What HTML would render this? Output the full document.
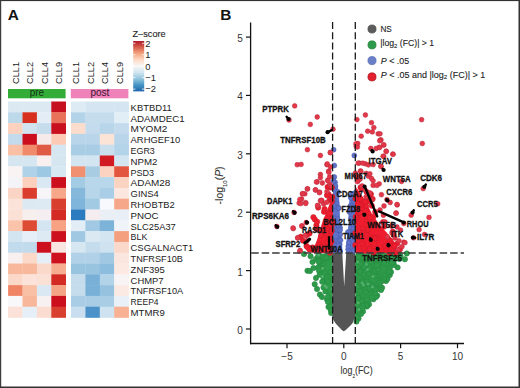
<!DOCTYPE html>
<html><head><meta charset="utf-8"><style>
html,body{margin:0;padding:0;background:#fff;}
body{width:520px;height:388px;overflow:hidden;}
svg{display:block;font-family:"Liberation Sans", sans-serif;}
</style></head><body>
<svg width="520" height="388" viewBox="0 0 520 388">
<rect x="0" y="0" width="520" height="388" fill="#fff"/>
<rect x="8.10" y="101.50" width="14.70" height="11.10" fill="#dce9f2"/>
<rect x="22.50" y="101.50" width="14.70" height="11.10" fill="#dce9f2"/>
<rect x="36.90" y="101.50" width="14.70" height="11.10" fill="#dce9f2"/>
<rect x="51.30" y="101.50" width="14.70" height="11.10" fill="#c7101f"/>
<rect x="71.00" y="101.50" width="14.70" height="11.10" fill="#dcebf4"/>
<rect x="85.40" y="101.50" width="14.70" height="11.10" fill="#d5e6f2"/>
<rect x="99.80" y="101.50" width="14.70" height="11.10" fill="#d5e6f2"/>
<rect x="114.20" y="101.50" width="14.70" height="11.10" fill="#d5e6f2"/>
<text x="130.6" y="110.70" font-size="9.5" fill="#222" textLength="41.2" lengthAdjust="spacingAndGlyphs">KBTBD11</text>
<rect x="8.10" y="112.30" width="14.70" height="11.10" fill="#bcd9ea"/>
<rect x="22.50" y="112.30" width="14.70" height="11.10" fill="#d7301f"/>
<rect x="36.90" y="112.30" width="14.70" height="11.10" fill="#e4edf6"/>
<rect x="51.30" y="112.30" width="14.70" height="11.10" fill="#e9735a"/>
<rect x="71.00" y="112.30" width="14.70" height="11.10" fill="#b2d3e8"/>
<rect x="85.40" y="112.30" width="14.70" height="11.10" fill="#c4dcec"/>
<rect x="99.80" y="112.30" width="14.70" height="11.10" fill="#c4dcec"/>
<rect x="114.20" y="112.30" width="14.70" height="11.10" fill="#e2eef6"/>
<text x="130.6" y="121.50" font-size="9.5" fill="#222" textLength="54" lengthAdjust="spacingAndGlyphs">ADAMDEC1</text>
<rect x="8.10" y="123.10" width="14.70" height="11.10" fill="#fcd1be"/>
<rect x="22.50" y="123.10" width="14.70" height="11.10" fill="#d0e3ef"/>
<rect x="36.90" y="123.10" width="14.70" height="11.10" fill="#c4dcec"/>
<rect x="51.30" y="123.10" width="14.70" height="11.10" fill="#c8101f"/>
<rect x="71.00" y="123.10" width="14.70" height="11.10" fill="#fbdccd"/>
<rect x="85.40" y="123.10" width="14.70" height="11.10" fill="#c3dbed"/>
<rect x="99.80" y="123.10" width="14.70" height="11.10" fill="#b9d5ea"/>
<rect x="114.20" y="123.10" width="14.70" height="11.10" fill="#c3dbed"/>
<text x="130.6" y="132.30" font-size="9.5" fill="#222" textLength="36.7" lengthAdjust="spacingAndGlyphs">MYOM2</text>
<rect x="8.10" y="133.90" width="14.70" height="11.10" fill="#c3dbec"/>
<rect x="22.50" y="133.90" width="14.70" height="11.10" fill="#cc0f1e"/>
<rect x="36.90" y="133.90" width="14.70" height="11.10" fill="#f6ebea"/>
<rect x="51.30" y="133.90" width="14.70" height="11.10" fill="#fccab5"/>
<rect x="71.00" y="133.90" width="14.70" height="11.10" fill="#b8d5e9"/>
<rect x="85.40" y="133.90" width="14.70" height="11.10" fill="#b8d5e9"/>
<rect x="99.80" y="133.90" width="14.70" height="11.10" fill="#fbe3d6"/>
<rect x="114.20" y="133.90" width="14.70" height="11.10" fill="#b8d5e9"/>
<text x="130.6" y="143.10" font-size="9.5" fill="#222" textLength="49.6" lengthAdjust="spacingAndGlyphs">ARHGEF10</text>
<rect x="8.10" y="144.70" width="14.70" height="11.10" fill="#f9c0a5"/>
<rect x="22.50" y="144.70" width="14.70" height="11.10" fill="#f08a6a"/>
<rect x="36.90" y="144.70" width="14.70" height="11.10" fill="#e05b45"/>
<rect x="51.30" y="144.70" width="14.70" height="11.10" fill="#d7e7f2"/>
<rect x="71.00" y="144.70" width="14.70" height="11.10" fill="#a9cde4"/>
<rect x="85.40" y="144.70" width="14.70" height="11.10" fill="#a9cde4"/>
<rect x="99.80" y="144.70" width="14.70" height="11.10" fill="#c9dfee"/>
<rect x="114.20" y="144.70" width="14.70" height="11.10" fill="#b3d3e8"/>
<text x="130.6" y="153.90" font-size="9.5" fill="#222" textLength="24.2" lengthAdjust="spacingAndGlyphs">EGR3</text>
<rect x="8.10" y="155.50" width="14.70" height="11.10" fill="#d5e6f1"/>
<rect x="22.50" y="155.50" width="14.70" height="11.10" fill="#d5e6f1"/>
<rect x="36.90" y="155.50" width="14.70" height="11.10" fill="#f8efee"/>
<rect x="51.30" y="155.50" width="14.70" height="11.10" fill="#d5e6f1"/>
<rect x="71.00" y="155.50" width="14.70" height="11.10" fill="#d3e5f1"/>
<rect x="85.40" y="155.50" width="14.70" height="11.10" fill="#d3e5f1"/>
<rect x="99.80" y="155.50" width="14.70" height="11.10" fill="#d11a22"/>
<rect x="114.20" y="155.50" width="14.70" height="11.10" fill="#d3e5f1"/>
<text x="130.6" y="164.70" font-size="9.5" fill="#222" textLength="26.9" lengthAdjust="spacingAndGlyphs">NPM2</text>
<rect x="8.10" y="166.30" width="14.70" height="11.10" fill="#f9f3f3"/>
<rect x="22.50" y="166.30" width="14.70" height="11.10" fill="#b0d2e8"/>
<rect x="36.90" y="166.30" width="14.70" height="11.10" fill="#9dc8e3"/>
<rect x="51.30" y="166.30" width="14.70" height="11.10" fill="#d8e8f2"/>
<rect x="71.00" y="166.30" width="14.70" height="11.10" fill="#f19071"/>
<rect x="85.40" y="166.30" width="14.70" height="11.10" fill="#a8cde3"/>
<rect x="99.80" y="166.30" width="14.70" height="11.10" fill="#fcd3c1"/>
<rect x="114.20" y="166.30" width="14.70" height="11.10" fill="#e2563f"/>
<text x="130.6" y="175.50" font-size="9.5" fill="#222" textLength="23.5" lengthAdjust="spacingAndGlyphs">PSD3</text>
<rect x="8.10" y="177.10" width="14.70" height="11.10" fill="#f4f4f8"/>
<rect x="22.50" y="177.10" width="14.70" height="11.10" fill="#fcd0bd"/>
<rect x="36.90" y="177.10" width="14.70" height="11.10" fill="#d9e8f2"/>
<rect x="51.30" y="177.10" width="14.70" height="11.10" fill="#cc0f1d"/>
<rect x="71.00" y="177.10" width="14.70" height="11.10" fill="#a3cbe3"/>
<rect x="85.40" y="177.10" width="14.70" height="11.10" fill="#b9d7ea"/>
<rect x="99.80" y="177.10" width="14.70" height="11.10" fill="#b9d7ea"/>
<rect x="114.20" y="177.10" width="14.70" height="11.10" fill="#fbd3c1"/>
<text x="130.6" y="186.30" font-size="9.5" fill="#222" textLength="39.7" lengthAdjust="spacingAndGlyphs">ADAM28</text>
<rect x="8.10" y="187.90" width="14.70" height="11.10" fill="#fad4c4"/>
<rect x="22.50" y="187.90" width="14.70" height="11.10" fill="#da3d2e"/>
<rect x="36.90" y="187.90" width="14.70" height="11.10" fill="#f7f5f7"/>
<rect x="51.30" y="187.90" width="14.70" height="11.10" fill="#f7a88a"/>
<rect x="71.00" y="187.90" width="14.70" height="11.10" fill="#86b8dc"/>
<rect x="85.40" y="187.90" width="14.70" height="11.10" fill="#b7d6ea"/>
<rect x="99.80" y="187.90" width="14.70" height="11.10" fill="#a9cee5"/>
<rect x="114.20" y="187.90" width="14.70" height="11.10" fill="#fbe7e0"/>
<text x="130.6" y="197.10" font-size="9.5" fill="#222" textLength="28.1" lengthAdjust="spacingAndGlyphs">GINS4</text>
<rect x="8.10" y="198.70" width="14.70" height="11.10" fill="#fbe3da"/>
<rect x="22.50" y="198.70" width="14.70" height="11.10" fill="#dce9f2"/>
<rect x="36.90" y="198.70" width="14.70" height="11.10" fill="#dde9f3"/>
<rect x="51.30" y="198.70" width="14.70" height="11.10" fill="#d83f2f"/>
<rect x="71.00" y="198.70" width="14.70" height="11.10" fill="#7fb5da"/>
<rect x="85.40" y="198.70" width="14.70" height="11.10" fill="#a2cae3"/>
<rect x="99.80" y="198.70" width="14.70" height="11.10" fill="#f7f9fc"/>
<rect x="114.20" y="198.70" width="14.70" height="11.10" fill="#f7a789"/>
<text x="130.6" y="207.90" font-size="9.5" fill="#222" textLength="44.2" lengthAdjust="spacingAndGlyphs">RHOBTB2</text>
<rect x="8.10" y="209.50" width="14.70" height="11.10" fill="#fbe0d6"/>
<rect x="22.50" y="209.50" width="14.70" height="11.10" fill="#f7eeee"/>
<rect x="36.90" y="209.50" width="14.70" height="11.10" fill="#f4eef0"/>
<rect x="51.30" y="209.50" width="14.70" height="11.10" fill="#d42a24"/>
<rect x="71.00" y="209.50" width="14.70" height="11.10" fill="#2c7bbf"/>
<rect x="85.40" y="209.50" width="14.70" height="11.10" fill="#f4ecee"/>
<rect x="99.80" y="209.50" width="14.70" height="11.10" fill="#eaeff6"/>
<rect x="114.20" y="209.50" width="14.70" height="11.10" fill="#e9eff7"/>
<text x="130.6" y="218.70" font-size="9.5" fill="#222" textLength="28" lengthAdjust="spacingAndGlyphs">PNOC</text>
<rect x="8.10" y="220.30" width="14.70" height="11.10" fill="#fac3aa"/>
<rect x="22.50" y="220.30" width="14.70" height="11.10" fill="#de4b35"/>
<rect x="36.90" y="220.30" width="14.70" height="11.10" fill="#d4e5f1"/>
<rect x="51.30" y="220.30" width="14.70" height="11.10" fill="#f6a283"/>
<rect x="71.00" y="220.30" width="14.70" height="11.10" fill="#e2edf5"/>
<rect x="85.40" y="220.30" width="14.70" height="11.10" fill="#a1c9e3"/>
<rect x="99.80" y="220.30" width="14.70" height="11.10" fill="#7db3d9"/>
<rect x="114.20" y="220.30" width="14.70" height="11.10" fill="#f0f3f8"/>
<text x="130.6" y="229.50" font-size="9.5" fill="#222" textLength="45.2" lengthAdjust="spacingAndGlyphs">SLC25A37</text>
<rect x="8.10" y="231.10" width="14.70" height="11.10" fill="#d3e5f1"/>
<rect x="22.50" y="231.10" width="14.70" height="11.10" fill="#e6eff7"/>
<rect x="36.90" y="231.10" width="14.70" height="11.10" fill="#dde9f3"/>
<rect x="51.30" y="231.10" width="14.70" height="11.10" fill="#cc101e"/>
<rect x="71.00" y="231.10" width="14.70" height="11.10" fill="#a0c8e2"/>
<rect x="85.40" y="231.10" width="14.70" height="11.10" fill="#dbe9f3"/>
<rect x="99.80" y="231.10" width="14.70" height="11.10" fill="#d3e5f1"/>
<rect x="114.20" y="231.10" width="14.70" height="11.10" fill="#f4a07f"/>
<text x="130.6" y="240.30" font-size="9.5" fill="#222" textLength="16.7" lengthAdjust="spacingAndGlyphs">BLK</text>
<rect x="8.10" y="241.90" width="14.70" height="11.10" fill="#c2dbec"/>
<rect x="22.50" y="241.90" width="14.70" height="11.10" fill="#c2dbec"/>
<rect x="36.90" y="241.90" width="14.70" height="11.10" fill="#cc101e"/>
<rect x="51.30" y="241.90" width="14.70" height="11.10" fill="#f9e6e0"/>
<rect x="71.00" y="241.90" width="14.70" height="11.10" fill="#d6e7f2"/>
<rect x="85.40" y="241.90" width="14.70" height="11.10" fill="#c5dced"/>
<rect x="99.80" y="241.90" width="14.70" height="11.10" fill="#cfe2ef"/>
<rect x="114.20" y="241.90" width="14.70" height="11.10" fill="#fbd9ca"/>
<text x="130.6" y="251.10" font-size="9.5" fill="#222" textLength="62.6" lengthAdjust="spacingAndGlyphs">CSGALNACT1</text>
<rect x="8.10" y="252.70" width="14.70" height="11.10" fill="#f8efef"/>
<rect x="22.50" y="252.70" width="14.70" height="11.10" fill="#fbd8c8"/>
<rect x="36.90" y="252.70" width="14.70" height="11.10" fill="#e5eef6"/>
<rect x="51.30" y="252.70" width="14.70" height="11.10" fill="#cd111f"/>
<rect x="71.00" y="252.70" width="14.70" height="11.10" fill="#b0d1e7"/>
<rect x="85.40" y="252.70" width="14.70" height="11.10" fill="#b0d1e7"/>
<rect x="99.80" y="252.70" width="14.70" height="11.10" fill="#a0c8e2"/>
<rect x="114.20" y="252.70" width="14.70" height="11.10" fill="#fbe6df"/>
<text x="130.6" y="261.90" font-size="9.5" fill="#222" textLength="52.3" lengthAdjust="spacingAndGlyphs">TNFRSF10B</text>
<rect x="8.10" y="263.50" width="14.70" height="11.10" fill="#f8b89c"/>
<rect x="22.50" y="263.50" width="14.70" height="11.10" fill="#f8b89c"/>
<rect x="36.90" y="263.50" width="14.70" height="11.10" fill="#fbd9ca"/>
<rect x="51.30" y="263.50" width="14.70" height="11.10" fill="#f6ad90"/>
<rect x="71.00" y="263.50" width="14.70" height="11.10" fill="#98c4e0"/>
<rect x="85.40" y="263.50" width="14.70" height="11.10" fill="#98c4e0"/>
<rect x="99.80" y="263.50" width="14.70" height="11.10" fill="#8dbdde"/>
<rect x="114.20" y="263.50" width="14.70" height="11.10" fill="#fbe9e2"/>
<text x="130.6" y="272.70" font-size="9.5" fill="#222" textLength="34.2" lengthAdjust="spacingAndGlyphs">ZNF395</text>
<rect x="8.10" y="274.30" width="14.70" height="11.10" fill="#fbd8c8"/>
<rect x="22.50" y="274.30" width="14.70" height="11.10" fill="#fbe3da"/>
<rect x="36.90" y="274.30" width="14.70" height="11.10" fill="#fbe0d5"/>
<rect x="51.30" y="274.30" width="14.70" height="11.10" fill="#d32a24"/>
<rect x="71.00" y="274.30" width="14.70" height="11.10" fill="#c4dcec"/>
<rect x="85.40" y="274.30" width="14.70" height="11.10" fill="#78b0d7"/>
<rect x="99.80" y="274.30" width="14.70" height="11.10" fill="#b2d3e8"/>
<rect x="114.20" y="274.30" width="14.70" height="11.10" fill="#f8f3f4"/>
<text x="130.6" y="283.50" font-size="9.5" fill="#222" textLength="33" lengthAdjust="spacingAndGlyphs">CHMP7</text>
<rect x="8.10" y="285.10" width="14.70" height="11.10" fill="#f08566"/>
<rect x="22.50" y="285.10" width="14.70" height="11.10" fill="#f9c0a5"/>
<rect x="36.90" y="285.10" width="14.70" height="11.10" fill="#d9e8f2"/>
<rect x="51.30" y="285.10" width="14.70" height="11.10" fill="#f5a385"/>
<rect x="71.00" y="285.10" width="14.70" height="11.10" fill="#c4dcec"/>
<rect x="85.40" y="285.10" width="14.70" height="11.10" fill="#78b0d7"/>
<rect x="99.80" y="285.10" width="14.70" height="11.10" fill="#96c2e0"/>
<rect x="114.20" y="285.10" width="14.70" height="11.10" fill="#fbeae3"/>
<text x="130.6" y="294.30" font-size="9.5" fill="#222" textLength="52.6" lengthAdjust="spacingAndGlyphs">TNFRSF10A</text>
<rect x="8.10" y="295.90" width="14.70" height="11.10" fill="#f8f7f9"/>
<rect x="22.50" y="295.90" width="14.70" height="11.10" fill="#f8b69a"/>
<rect x="36.90" y="295.90" width="14.70" height="11.10" fill="#f7f1f2"/>
<rect x="51.30" y="295.90" width="14.70" height="11.10" fill="#cc0f1d"/>
<rect x="71.00" y="295.90" width="14.70" height="11.10" fill="#a9cde4"/>
<rect x="85.40" y="295.90" width="14.70" height="11.10" fill="#a9cde4"/>
<rect x="99.80" y="295.90" width="14.70" height="11.10" fill="#a9cde4"/>
<rect x="114.20" y="295.90" width="14.70" height="11.10" fill="#eaf0f7"/>
<text x="130.6" y="305.10" font-size="9.5" fill="#222" textLength="28" lengthAdjust="spacingAndGlyphs">REEP4</text>
<rect x="8.10" y="306.70" width="14.70" height="11.10" fill="#fbe1d7"/>
<rect x="22.50" y="306.70" width="14.70" height="11.10" fill="#e6eff7"/>
<rect x="36.90" y="306.70" width="14.70" height="11.10" fill="#fbdcd0"/>
<rect x="51.30" y="306.70" width="14.70" height="11.10" fill="#d93f2f"/>
<rect x="71.00" y="306.70" width="14.70" height="11.10" fill="#c9deee"/>
<rect x="85.40" y="306.70" width="14.70" height="11.10" fill="#4b92c8"/>
<rect x="99.80" y="306.70" width="14.70" height="11.10" fill="#cfe2ef"/>
<rect x="114.20" y="306.70" width="14.70" height="11.10" fill="#f8b192"/>
<text x="130.6" y="315.90" font-size="9.5" fill="#222" textLength="34.2" lengthAdjust="spacingAndGlyphs">MTMR9</text>
<rect x="8" y="89" width="57.6" height="9.3" fill="#33ac38"/>
<rect x="70.8" y="89" width="57.6" height="9.3" fill="#ef82b9"/>
<text x="36.9" y="95.8" font-size="10" fill="#163016" text-anchor="middle">pre</text>
<text x="99.9" y="95.8" font-size="10" fill="#3a1430" text-anchor="middle">post</text>
<text transform="translate(18.60,83.9) rotate(-90)" font-size="9.2" fill="#222">CLL1</text>
<text transform="translate(33.10,83.9) rotate(-90)" font-size="9.2" fill="#222">CLL2</text>
<text transform="translate(47.50,83.9) rotate(-90)" font-size="9.2" fill="#222">CLL4</text>
<text transform="translate(61.90,83.9) rotate(-90)" font-size="9.2" fill="#222">CLL9</text>
<text transform="translate(79.20,83.9) rotate(-90)" font-size="9.2" fill="#222">CLL1</text>
<text transform="translate(93.90,83.9) rotate(-90)" font-size="9.2" fill="#222">CLL2</text>
<text transform="translate(108.10,83.9) rotate(-90)" font-size="9.2" fill="#222">CLL4</text>
<text transform="translate(122.50,83.9) rotate(-90)" font-size="9.2" fill="#222">CLL9</text>
<defs><linearGradient id="cb" x1="0" y1="0" x2="0" y2="1">
<stop offset="0" stop-color="#b2182b"/>
<stop offset="0.125" stop-color="#d6604d"/>
<stop offset="0.25" stop-color="#f4a582"/>
<stop offset="0.375" stop-color="#fddbc7"/>
<stop offset="0.5" stop-color="#f7f7f7"/>
<stop offset="0.625" stop-color="#d1e5f0"/>
<stop offset="0.75" stop-color="#92c5de"/>
<stop offset="0.875" stop-color="#4393c3"/>
<stop offset="1" stop-color="#2166ac"/>
</linearGradient></defs>
<rect x="133.2" y="41" width="11" height="50.4" fill="url(#cb)"/>
<line x1="133.2" x2="135.4" y1="43.30" y2="43.30" stroke="#fff" stroke-width="0.8"/>
<line x1="142" x2="144.2" y1="43.30" y2="43.30" stroke="#fff" stroke-width="0.8"/>
<text x="145.2" y="46.60" font-size="9.4" fill="#222">2</text>
<line x1="133.2" x2="135.4" y1="54.75" y2="54.75" stroke="#fff" stroke-width="0.8"/>
<line x1="142" x2="144.2" y1="54.75" y2="54.75" stroke="#fff" stroke-width="0.8"/>
<text x="145.2" y="58.05" font-size="9.4" fill="#222">1</text>
<line x1="133.2" x2="135.4" y1="66.20" y2="66.20" stroke="#fff" stroke-width="0.8"/>
<line x1="142" x2="144.2" y1="66.20" y2="66.20" stroke="#fff" stroke-width="0.8"/>
<text x="145.2" y="69.50" font-size="9.4" fill="#222">0</text>
<line x1="133.2" x2="135.4" y1="77.65" y2="77.65" stroke="#fff" stroke-width="0.8"/>
<line x1="142" x2="144.2" y1="77.65" y2="77.65" stroke="#fff" stroke-width="0.8"/>
<text x="145.2" y="80.95" font-size="9.4" fill="#222">−1</text>
<line x1="133.2" x2="135.4" y1="89.10" y2="89.10" stroke="#fff" stroke-width="0.8"/>
<line x1="142" x2="144.2" y1="89.10" y2="89.10" stroke="#fff" stroke-width="0.8"/>
<text x="145.2" y="92.40" font-size="9.4" fill="#222">−2</text>
<text x="132.5" y="36.8" font-size="9" fill="#222" stroke="#222" stroke-width="0.1" textLength="33.2" lengthAdjust="spacingAndGlyphs">Z–score</text>
<text x="7.7" y="20.1" font-size="15.4" font-weight="bold" fill="#111">A</text>
<text x="220.3" y="20.1" font-size="15.4" font-weight="bold" fill="#111">B</text>
<polygon points="318.0,253.5 318.5,265.0 319.5,275.0 323.0,285.0 326.5,295.0 329.5,305.0 332.0,314.0 332.7,318.0 332.7,253.5" fill="#2e9b4a"/>
<polygon points="355.2,253.5 399.0,253.5 394.0,262.0 389.0,270.0 384.0,278.0 380.0,285.0 375.5,292.0 370.0,300.0 364.0,307.0 360.0,312.0 357.0,316.5 355.2,320.0" fill="#2e9b4a"/>
<circle cx="304.0" cy="254.0" r="2.7" fill="#2e9b4a" stroke="#25803d" stroke-width="0.5"/>
<circle cx="310.6" cy="256.3" r="2.7" fill="#2e9b4a" stroke="#25803d" stroke-width="0.5"/>
<circle cx="312.5" cy="262.0" r="2.7" fill="#2e9b4a" stroke="#25803d" stroke-width="0.5"/>
<circle cx="307.5" cy="270.8" r="2.7" fill="#2e9b4a" stroke="#25803d" stroke-width="0.5"/>
<circle cx="310.0" cy="271.0" r="2.7" fill="#2e9b4a" stroke="#25803d" stroke-width="0.5"/>
<circle cx="313.5" cy="268.0" r="2.7" fill="#2e9b4a" stroke="#25803d" stroke-width="0.5"/>
<circle cx="314.7" cy="284.2" r="2.7" fill="#2e9b4a" stroke="#25803d" stroke-width="0.5"/>
<circle cx="316.0" cy="278.0" r="2.7" fill="#2e9b4a" stroke="#25803d" stroke-width="0.5"/>
<circle cx="319.9" cy="294.5" r="2.7" fill="#2e9b4a" stroke="#25803d" stroke-width="0.5"/>
<circle cx="322.0" cy="297.0" r="2.7" fill="#2e9b4a" stroke="#25803d" stroke-width="0.5"/>
<circle cx="327.0" cy="299.6" r="2.7" fill="#2e9b4a" stroke="#25803d" stroke-width="0.5"/>
<circle cx="331.2" cy="313.0" r="2.7" fill="#2e9b4a" stroke="#25803d" stroke-width="0.5"/>
<circle cx="328.5" cy="307.0" r="2.7" fill="#2e9b4a" stroke="#25803d" stroke-width="0.5"/>
<circle cx="316.0" cy="259.0" r="2.7" fill="#2e9b4a" stroke="#25803d" stroke-width="0.5"/>
<circle cx="317.0" cy="289.0" r="2.7" fill="#2e9b4a" stroke="#25803d" stroke-width="0.5"/>
<circle cx="406.8" cy="253.5" r="2.7" fill="#2e9b4a" stroke="#25803d" stroke-width="0.5"/>
<circle cx="404.9" cy="259.3" r="2.7" fill="#2e9b4a" stroke="#25803d" stroke-width="0.5"/>
<circle cx="400.5" cy="256.0" r="2.7" fill="#2e9b4a" stroke="#25803d" stroke-width="0.5"/>
<circle cx="397.6" cy="267.4" r="2.7" fill="#2e9b4a" stroke="#25803d" stroke-width="0.5"/>
<circle cx="394.0" cy="265.0" r="2.7" fill="#2e9b4a" stroke="#25803d" stroke-width="0.5"/>
<circle cx="389.8" cy="275.1" r="2.7" fill="#2e9b4a" stroke="#25803d" stroke-width="0.5"/>
<circle cx="391.0" cy="272.0" r="2.7" fill="#2e9b4a" stroke="#25803d" stroke-width="0.5"/>
<circle cx="386.0" cy="281.0" r="2.7" fill="#2e9b4a" stroke="#25803d" stroke-width="0.5"/>
<circle cx="387.5" cy="279.0" r="2.7" fill="#2e9b4a" stroke="#25803d" stroke-width="0.5"/>
<circle cx="382.1" cy="287.7" r="2.7" fill="#2e9b4a" stroke="#25803d" stroke-width="0.5"/>
<circle cx="381.0" cy="290.0" r="2.7" fill="#2e9b4a" stroke="#25803d" stroke-width="0.5"/>
<circle cx="377.2" cy="295.5" r="2.7" fill="#2e9b4a" stroke="#25803d" stroke-width="0.5"/>
<circle cx="373.4" cy="299.3" r="2.7" fill="#2e9b4a" stroke="#25803d" stroke-width="0.5"/>
<circle cx="376.0" cy="297.0" r="2.7" fill="#2e9b4a" stroke="#25803d" stroke-width="0.5"/>
<circle cx="369.0" cy="304.5" r="2.7" fill="#2e9b4a" stroke="#25803d" stroke-width="0.5"/>
<circle cx="367.0" cy="306.5" r="2.7" fill="#2e9b4a" stroke="#25803d" stroke-width="0.5"/>
<circle cx="363.0" cy="311.5" r="2.7" fill="#2e9b4a" stroke="#25803d" stroke-width="0.5"/>
<circle cx="361.0" cy="314.0" r="2.7" fill="#2e9b4a" stroke="#25803d" stroke-width="0.5"/>
<circle cx="358.5" cy="318.5" r="2.7" fill="#2e9b4a" stroke="#25803d" stroke-width="0.5"/>
<circle cx="356.5" cy="321.5" r="2.7" fill="#2e9b4a" stroke="#25803d" stroke-width="0.5"/>
<circle cx="399.5" cy="259.0" r="2.7" fill="#2e9b4a" stroke="#25803d" stroke-width="0.5"/>
<circle cx="322.8" cy="263.2" r="2.7" fill="#2e9b4a" stroke="#268a40" stroke-width="0.5"/>
<circle cx="327.6" cy="258.2" r="2.7" fill="#2e9b4a" stroke="#268a40" stroke-width="0.5"/>
<circle cx="325.9" cy="277.1" r="2.7" fill="#2e9b4a" stroke="#268a40" stroke-width="0.5"/>
<circle cx="319.0" cy="259.4" r="2.7" fill="#2e9b4a" stroke="#268a40" stroke-width="0.5"/>
<circle cx="319.8" cy="267.9" r="2.7" fill="#2e9b4a" stroke="#268a40" stroke-width="0.5"/>
<circle cx="326.5" cy="279.1" r="2.7" fill="#2e9b4a" stroke="#268a40" stroke-width="0.5"/>
<circle cx="332.4" cy="256.5" r="2.7" fill="#2e9b4a" stroke="#268a40" stroke-width="0.5"/>
<circle cx="330.6" cy="272.2" r="2.7" fill="#2e9b4a" stroke="#268a40" stroke-width="0.5"/>
<circle cx="320.1" cy="261.1" r="2.7" fill="#2e9b4a" stroke="#268a40" stroke-width="0.5"/>
<circle cx="327.4" cy="277.5" r="2.7" fill="#2e9b4a" stroke="#268a40" stroke-width="0.5"/>
<circle cx="326.1" cy="257.5" r="2.7" fill="#2e9b4a" stroke="#268a40" stroke-width="0.5"/>
<circle cx="318.9" cy="266.8" r="2.7" fill="#2e9b4a" stroke="#268a40" stroke-width="0.5"/>
<circle cx="328.0" cy="281.1" r="2.7" fill="#2e9b4a" stroke="#268a40" stroke-width="0.5"/>
<circle cx="324.7" cy="272.8" r="2.7" fill="#2e9b4a" stroke="#268a40" stroke-width="0.5"/>
<circle cx="318.3" cy="255.5" r="2.7" fill="#2e9b4a" stroke="#268a40" stroke-width="0.5"/>
<circle cx="318.4" cy="261.4" r="2.7" fill="#2e9b4a" stroke="#268a40" stroke-width="0.5"/>
<circle cx="318.4" cy="267.4" r="2.7" fill="#2e9b4a" stroke="#268a40" stroke-width="0.5"/>
<circle cx="318.9" cy="270.6" r="2.7" fill="#2e9b4a" stroke="#268a40" stroke-width="0.5"/>
<circle cx="319.6" cy="274.8" r="2.7" fill="#2e9b4a" stroke="#268a40" stroke-width="0.5"/>
<circle cx="322.2" cy="281.8" r="2.7" fill="#2e9b4a" stroke="#268a40" stroke-width="0.5"/>
<circle cx="323.5" cy="287.4" r="2.7" fill="#2e9b4a" stroke="#268a40" stroke-width="0.5"/>
<circle cx="325.4" cy="291.4" r="2.7" fill="#2e9b4a" stroke="#268a40" stroke-width="0.5"/>
<circle cx="327.7" cy="297.1" r="2.7" fill="#2e9b4a" stroke="#268a40" stroke-width="0.5"/>
<circle cx="328.0" cy="301.9" r="2.7" fill="#2e9b4a" stroke="#268a40" stroke-width="0.5"/>
<circle cx="330.5" cy="306.8" r="2.7" fill="#2e9b4a" stroke="#268a40" stroke-width="0.5"/>
<circle cx="330.8" cy="310.3" r="2.7" fill="#2e9b4a" stroke="#268a40" stroke-width="0.5"/>
<circle cx="398.9" cy="253.1" r="2.7" fill="#2e9b4a" stroke="#268a40" stroke-width="0.5"/>
<circle cx="395.8" cy="258.3" r="2.7" fill="#2e9b4a" stroke="#268a40" stroke-width="0.5"/>
<circle cx="393.5" cy="262.1" r="2.7" fill="#2e9b4a" stroke="#268a40" stroke-width="0.5"/>
<circle cx="389.9" cy="267.7" r="2.7" fill="#2e9b4a" stroke="#268a40" stroke-width="0.5"/>
<circle cx="388.8" cy="271.5" r="2.7" fill="#2e9b4a" stroke="#268a40" stroke-width="0.5"/>
<circle cx="385.2" cy="275.6" r="2.7" fill="#2e9b4a" stroke="#268a40" stroke-width="0.5"/>
<circle cx="384.1" cy="279.2" r="2.7" fill="#2e9b4a" stroke="#268a40" stroke-width="0.5"/>
<circle cx="381.5" cy="281.4" r="2.7" fill="#2e9b4a" stroke="#268a40" stroke-width="0.5"/>
<circle cx="379.7" cy="285.5" r="2.7" fill="#2e9b4a" stroke="#268a40" stroke-width="0.5"/>
<circle cx="376.9" cy="288.9" r="2.7" fill="#2e9b4a" stroke="#268a40" stroke-width="0.5"/>
<circle cx="375.1" cy="293.3" r="2.7" fill="#2e9b4a" stroke="#268a40" stroke-width="0.5"/>
<circle cx="371.8" cy="297.5" r="2.7" fill="#2e9b4a" stroke="#268a40" stroke-width="0.5"/>
<circle cx="368.5" cy="301.7" r="2.7" fill="#2e9b4a" stroke="#268a40" stroke-width="0.5"/>
<circle cx="366.3" cy="305.2" r="2.7" fill="#2e9b4a" stroke="#268a40" stroke-width="0.5"/>
<circle cx="363.1" cy="307.5" r="2.7" fill="#2e9b4a" stroke="#268a40" stroke-width="0.5"/>
<circle cx="358.5" cy="312.9" r="2.7" fill="#2e9b4a" stroke="#268a40" stroke-width="0.5"/>
<circle cx="364.3" cy="264.3" r="2.7" fill="#2e9b4a" stroke="#268a40" stroke-width="0.5"/>
<circle cx="370.1" cy="257.0" r="2.7" fill="#2e9b4a" stroke="#268a40" stroke-width="0.5"/>
<circle cx="355.2" cy="263.6" r="2.7" fill="#2e9b4a" stroke="#268a40" stroke-width="0.5"/>
<circle cx="359.6" cy="277.7" r="2.7" fill="#2e9b4a" stroke="#268a40" stroke-width="0.5"/>
<circle cx="356.3" cy="311.6" r="2.7" fill="#2e9b4a" stroke="#268a40" stroke-width="0.5"/>
<circle cx="382.1" cy="263.4" r="2.7" fill="#2e9b4a" stroke="#268a40" stroke-width="0.5"/>
<circle cx="366.2" cy="276.6" r="2.7" fill="#2e9b4a" stroke="#268a40" stroke-width="0.5"/>
<circle cx="371.2" cy="261.7" r="2.7" fill="#2e9b4a" stroke="#268a40" stroke-width="0.5"/>
<circle cx="375.6" cy="285.7" r="2.7" fill="#2e9b4a" stroke="#268a40" stroke-width="0.5"/>
<circle cx="359.0" cy="260.3" r="2.7" fill="#2e9b4a" stroke="#268a40" stroke-width="0.5"/>
<circle cx="370.2" cy="271.1" r="2.7" fill="#2e9b4a" stroke="#268a40" stroke-width="0.5"/>
<circle cx="391.5" cy="264.2" r="2.7" fill="#2e9b4a" stroke="#268a40" stroke-width="0.5"/>
<circle cx="356.2" cy="316.7" r="2.7" fill="#2e9b4a" stroke="#268a40" stroke-width="0.5"/>
<circle cx="378.3" cy="263.2" r="2.7" fill="#2e9b4a" stroke="#268a40" stroke-width="0.5"/>
<circle cx="379.0" cy="255.3" r="2.7" fill="#2e9b4a" stroke="#268a40" stroke-width="0.5"/>
<circle cx="366.6" cy="277.9" r="2.7" fill="#2e9b4a" stroke="#268a40" stroke-width="0.5"/>
<circle cx="362.5" cy="304.8" r="2.7" fill="#2e9b4a" stroke="#268a40" stroke-width="0.5"/>
<circle cx="369.6" cy="268.3" r="2.7" fill="#2e9b4a" stroke="#268a40" stroke-width="0.5"/>
<circle cx="365.1" cy="287.9" r="2.7" fill="#2e9b4a" stroke="#268a40" stroke-width="0.5"/>
<circle cx="370.8" cy="255.4" r="2.7" fill="#2e9b4a" stroke="#268a40" stroke-width="0.5"/>
<circle cx="356.4" cy="272.1" r="2.7" fill="#2e9b4a" stroke="#268a40" stroke-width="0.5"/>
<circle cx="366.6" cy="299.6" r="2.7" fill="#2e9b4a" stroke="#268a40" stroke-width="0.5"/>
<circle cx="364.9" cy="268.6" r="2.7" fill="#2e9b4a" stroke="#268a40" stroke-width="0.5"/>
<circle cx="363.8" cy="267.1" r="2.7" fill="#2e9b4a" stroke="#268a40" stroke-width="0.5"/>
<circle cx="358.9" cy="297.4" r="2.7" fill="#2e9b4a" stroke="#268a40" stroke-width="0.5"/>
<circle cx="363.0" cy="306.0" r="2.7" fill="#2e9b4a" stroke="#268a40" stroke-width="0.5"/>
<circle cx="386.9" cy="264.8" r="2.7" fill="#2e9b4a" stroke="#268a40" stroke-width="0.5"/>
<circle cx="360.8" cy="263.6" r="2.7" fill="#2e9b4a" stroke="#268a40" stroke-width="0.5"/>
<circle cx="361.6" cy="308.5" r="2.7" fill="#2e9b4a" stroke="#268a40" stroke-width="0.5"/>
<circle cx="370.5" cy="290.0" r="2.7" fill="#2e9b4a" stroke="#268a40" stroke-width="0.5"/>
<circle cx="360.9" cy="254.4" r="2.7" fill="#2e9b4a" stroke="#268a40" stroke-width="0.5"/>
<circle cx="366.2" cy="273.0" r="2.7" fill="#2e9b4a" stroke="#268a40" stroke-width="0.5"/>
<circle cx="365.7" cy="292.5" r="2.7" fill="#2e9b4a" stroke="#268a40" stroke-width="0.5"/>
<circle cx="366.6" cy="281.4" r="2.7" fill="#2e9b4a" stroke="#268a40" stroke-width="0.5"/>
<circle cx="370.7" cy="284.0" r="2.7" fill="#2e9b4a" stroke="#268a40" stroke-width="0.5"/>
<circle cx="377.2" cy="288.9" r="2.7" fill="#2e9b4a" stroke="#268a40" stroke-width="0.5"/>
<circle cx="378.1" cy="254.7" r="2.7" fill="#2e9b4a" stroke="#268a40" stroke-width="0.5"/>
<circle cx="374.5" cy="265.7" r="2.7" fill="#2e9b4a" stroke="#268a40" stroke-width="0.5"/>
<circle cx="355.4" cy="306.6" r="2.7" fill="#2e9b4a" stroke="#268a40" stroke-width="0.5"/>
<circle cx="362.7" cy="285.0" r="2.7" fill="#2e9b4a" stroke="#268a40" stroke-width="0.5"/>
<circle cx="369.5" cy="288.0" r="2.7" fill="#2e9b4a" stroke="#268a40" stroke-width="0.5"/>
<circle cx="359.8" cy="290.8" r="2.7" fill="#2e9b4a" stroke="#268a40" stroke-width="0.5"/>
<circle cx="366.1" cy="271.9" r="2.7" fill="#2e9b4a" stroke="#268a40" stroke-width="0.5"/>
<circle cx="375.0" cy="289.0" r="2.7" fill="#2e9b4a" stroke="#268a40" stroke-width="0.5"/>
<circle cx="392.0" cy="262.6" r="2.7" fill="#2e9b4a" stroke="#268a40" stroke-width="0.5"/>
<circle cx="360.5" cy="282.9" r="2.7" fill="#2e9b4a" stroke="#268a40" stroke-width="0.5"/>
<circle cx="358.4" cy="269.5" r="2.7" fill="#2e9b4a" stroke="#268a40" stroke-width="0.5"/>
<circle cx="358.4" cy="298.0" r="2.7" fill="#2e9b4a" stroke="#268a40" stroke-width="0.5"/>
<circle cx="362.0" cy="301.1" r="2.7" fill="#2e9b4a" stroke="#268a40" stroke-width="0.5"/>
<circle cx="384.1" cy="263.0" r="2.7" fill="#2e9b4a" stroke="#268a40" stroke-width="0.5"/>
<circle cx="372.6" cy="285.9" r="2.7" fill="#2e9b4a" stroke="#268a40" stroke-width="0.5"/>
<circle cx="362.3" cy="282.2" r="2.7" fill="#2e9b4a" stroke="#268a40" stroke-width="0.5"/>
<circle cx="377.8" cy="276.1" r="2.7" fill="#2e9b4a" stroke="#268a40" stroke-width="0.5"/>
<circle cx="363.8" cy="274.7" r="2.7" fill="#2e9b4a" stroke="#268a40" stroke-width="0.5"/>
<circle cx="386.8" cy="254.8" r="2.7" fill="#2e9b4a" stroke="#268a40" stroke-width="0.5"/>
<circle cx="379.5" cy="282.8" r="2.7" fill="#2e9b4a" stroke="#268a40" stroke-width="0.5"/>
<circle cx="356.0" cy="275.5" r="2.7" fill="#2e9b4a" stroke="#268a40" stroke-width="0.5"/>
<circle cx="359.8" cy="271.2" r="2.7" fill="#2e9b4a" stroke="#268a40" stroke-width="0.5"/>
<circle cx="356.9" cy="305.3" r="2.7" fill="#2e9b4a" stroke="#268a40" stroke-width="0.5"/>
<circle cx="367.0" cy="262.1" r="2.7" fill="#2e9b4a" stroke="#268a40" stroke-width="0.5"/>
<circle cx="359.1" cy="257.3" r="2.7" fill="#2e9b4a" stroke="#268a40" stroke-width="0.5"/>
<circle cx="358.9" cy="310.4" r="2.7" fill="#2e9b4a" stroke="#268a40" stroke-width="0.5"/>
<circle cx="358.1" cy="310.9" r="2.7" fill="#2e9b4a" stroke="#268a40" stroke-width="0.5"/>
<circle cx="375.1" cy="276.1" r="2.7" fill="#2e9b4a" stroke="#268a40" stroke-width="0.5"/>
<circle cx="366.9" cy="262.1" r="2.7" fill="#2e9b4a" stroke="#268a40" stroke-width="0.5"/>
<circle cx="378.3" cy="269.4" r="2.7" fill="#2e9b4a" stroke="#268a40" stroke-width="0.5"/>
<circle cx="360.0" cy="264.2" r="2.7" fill="#2e9b4a" stroke="#268a40" stroke-width="0.5"/>
<circle cx="357.4" cy="266.9" r="2.7" fill="#2e9b4a" stroke="#268a40" stroke-width="0.5"/>
<circle cx="368.9" cy="273.8" r="2.7" fill="#2e9b4a" stroke="#268a40" stroke-width="0.5"/>
<circle cx="377.1" cy="265.3" r="2.7" fill="#2e9b4a" stroke="#268a40" stroke-width="0.5"/>
<circle cx="370.4" cy="254.7" r="1.4" fill="#54b06c"/>
<circle cx="366.2" cy="254.5" r="1.4" fill="#54b06c"/>
<circle cx="363.5" cy="285.1" r="1.4" fill="#54b06c"/>
<circle cx="372.4" cy="287.2" r="1.4" fill="#54b06c"/>
<circle cx="372.9" cy="276.6" r="1.4" fill="#54b06c"/>
<circle cx="357.6" cy="262.1" r="1.4" fill="#54b06c"/>
<circle cx="358.3" cy="302.8" r="1.4" fill="#54b06c"/>
<circle cx="366.4" cy="264.4" r="1.4" fill="#54b06c"/>
<circle cx="358.9" cy="309.4" r="1.4" fill="#54b06c"/>
<circle cx="367.5" cy="269.6" r="1.4" fill="#54b06c"/>
<circle cx="368.0" cy="284.1" r="1.4" fill="#54b06c"/>
<circle cx="362.1" cy="283.1" r="1.4" fill="#54b06c"/>
<circle cx="332.3" cy="288.8" r="1.4" fill="#54b06c"/>
<circle cx="322.6" cy="276.5" r="1.4" fill="#54b06c"/>
<circle cx="325.0" cy="285.9" r="1.4" fill="#54b06c"/>
<circle cx="318.6" cy="255.0" r="1.4" fill="#54b06c"/>
<circle cx="322.5" cy="268.5" r="1.4" fill="#54b06c"/>
<circle cx="326.6" cy="287.6" r="1.4" fill="#54b06c"/>
<polygon points="332.4,253.0 342.3,253.0 344.2,286.5 346.2,253.0 355.0,253.0 355.0,317.0 354.0,319.5 352.5,323.3 350.0,326.0 347.9,328.0 345.5,330.3 343.8,331.3 342.0,330.3 340.0,328.0 337.5,325.5 335.5,323.3 333.5,320.0 332.4,317.0" fill="#555555"/>
<polygon points="333.0,180.0 336.0,182.0 338.5,190.0 339.6,205.0 340.2,225.0 342.1,243.0 342.4,253.0 333.0,253.0" fill="#5d72c8"/>
<polygon points="355.3,189.0 351.0,193.0 348.6,205.0 348.4,225.0 346.2,243.0 346.1,253.0 355.3,253.0" fill="#5d72c8"/>
<circle cx="340.1" cy="228.0" r="2.4" fill="#5d72c8" stroke="#4659a8" stroke-width="0.5"/>
<circle cx="339.7" cy="244.2" r="2.4" fill="#5d72c8" stroke="#4659a8" stroke-width="0.5"/>
<circle cx="336.7" cy="203.8" r="2.4" fill="#5d72c8" stroke="#4659a8" stroke-width="0.5"/>
<circle cx="339.8" cy="227.0" r="2.4" fill="#5d72c8" stroke="#4659a8" stroke-width="0.5"/>
<circle cx="333.4" cy="241.0" r="2.4" fill="#5d72c8" stroke="#4659a8" stroke-width="0.5"/>
<circle cx="339.9" cy="239.3" r="2.4" fill="#5d72c8" stroke="#4659a8" stroke-width="0.5"/>
<circle cx="334.3" cy="218.2" r="2.4" fill="#5d72c8" stroke="#4659a8" stroke-width="0.5"/>
<circle cx="337.7" cy="241.0" r="2.4" fill="#5d72c8" stroke="#4659a8" stroke-width="0.5"/>
<circle cx="340.6" cy="240.3" r="2.4" fill="#5d72c8" stroke="#4659a8" stroke-width="0.5"/>
<circle cx="338.5" cy="245.2" r="2.4" fill="#5d72c8" stroke="#4659a8" stroke-width="0.5"/>
<circle cx="339.4" cy="230.6" r="2.4" fill="#5d72c8" stroke="#4659a8" stroke-width="0.5"/>
<circle cx="335.2" cy="182.3" r="2.4" fill="#5d72c8" stroke="#4659a8" stroke-width="0.5"/>
<circle cx="334.3" cy="206.3" r="2.4" fill="#5d72c8" stroke="#4659a8" stroke-width="0.5"/>
<circle cx="334.0" cy="241.0" r="2.4" fill="#5d72c8" stroke="#4659a8" stroke-width="0.5"/>
<circle cx="338.3" cy="225.8" r="2.4" fill="#5d72c8" stroke="#4659a8" stroke-width="0.5"/>
<circle cx="338.9" cy="229.7" r="2.4" fill="#5d72c8" stroke="#4659a8" stroke-width="0.5"/>
<circle cx="340.5" cy="234.6" r="2.4" fill="#5d72c8" stroke="#4659a8" stroke-width="0.5"/>
<circle cx="337.7" cy="219.1" r="2.4" fill="#5d72c8" stroke="#4659a8" stroke-width="0.5"/>
<circle cx="333.7" cy="199.4" r="2.4" fill="#5d72c8" stroke="#4659a8" stroke-width="0.5"/>
<circle cx="340.0" cy="251.2" r="2.4" fill="#5d72c8" stroke="#4659a8" stroke-width="0.5"/>
<circle cx="337.6" cy="207.9" r="2.4" fill="#5d72c8" stroke="#4659a8" stroke-width="0.5"/>
<circle cx="337.5" cy="229.9" r="2.4" fill="#5d72c8" stroke="#4659a8" stroke-width="0.5"/>
<circle cx="353.2" cy="228.5" r="2.4" fill="#5d72c8" stroke="#4659a8" stroke-width="0.5"/>
<circle cx="352.0" cy="194.0" r="2.4" fill="#5d72c8" stroke="#4659a8" stroke-width="0.5"/>
<circle cx="352.9" cy="208.5" r="2.4" fill="#5d72c8" stroke="#4659a8" stroke-width="0.5"/>
<circle cx="352.3" cy="233.3" r="2.4" fill="#5d72c8" stroke="#4659a8" stroke-width="0.5"/>
<circle cx="352.3" cy="207.6" r="2.4" fill="#5d72c8" stroke="#4659a8" stroke-width="0.5"/>
<circle cx="350.9" cy="218.7" r="2.4" fill="#5d72c8" stroke="#4659a8" stroke-width="0.5"/>
<circle cx="350.4" cy="196.6" r="2.4" fill="#5d72c8" stroke="#4659a8" stroke-width="0.5"/>
<circle cx="354.3" cy="201.8" r="2.4" fill="#5d72c8" stroke="#4659a8" stroke-width="0.5"/>
<circle cx="355.1" cy="248.9" r="2.4" fill="#5d72c8" stroke="#4659a8" stroke-width="0.5"/>
<circle cx="353.6" cy="251.0" r="2.4" fill="#5d72c8" stroke="#4659a8" stroke-width="0.5"/>
<circle cx="350.2" cy="206.2" r="2.4" fill="#5d72c8" stroke="#4659a8" stroke-width="0.5"/>
<circle cx="348.0" cy="249.5" r="2.4" fill="#5d72c8" stroke="#4659a8" stroke-width="0.5"/>
<circle cx="354.9" cy="197.5" r="2.4" fill="#5d72c8" stroke="#4659a8" stroke-width="0.5"/>
<circle cx="353.6" cy="221.6" r="2.4" fill="#5d72c8" stroke="#4659a8" stroke-width="0.5"/>
<circle cx="354.3" cy="234.0" r="2.4" fill="#5d72c8" stroke="#4659a8" stroke-width="0.5"/>
<circle cx="348.2" cy="246.5" r="2.4" fill="#5d72c8" stroke="#4659a8" stroke-width="0.5"/>
<circle cx="350.2" cy="208.3" r="2.4" fill="#5d72c8" stroke="#4659a8" stroke-width="0.5"/>
<circle cx="349.0" cy="242.8" r="2.4" fill="#5d72c8" stroke="#4659a8" stroke-width="0.5"/>
<circle cx="333.6" cy="149.7" r="2.5" fill="#5d72c8" stroke="#4659a8" stroke-width="0.5"/>
<circle cx="334.3" cy="165.5" r="2.5" fill="#5d72c8" stroke="#4659a8" stroke-width="0.5"/>
<circle cx="334.3" cy="177.0" r="2.5" fill="#5d72c8" stroke="#4659a8" stroke-width="0.5"/>
<circle cx="333.5" cy="181.0" r="2.5" fill="#5d72c8" stroke="#4659a8" stroke-width="0.5"/>
<circle cx="354.3" cy="155.4" r="2.5" fill="#5d72c8" stroke="#4659a8" stroke-width="0.5"/>
<circle cx="355.9" cy="195.6" r="2.5" fill="#5d72c8" stroke="#4659a8" stroke-width="0.5"/>
<circle cx="335.5" cy="186.0" r="2.5" fill="#5d72c8" stroke="#4659a8" stroke-width="0.5"/>
<circle cx="338.0" cy="192.0" r="2.5" fill="#5d72c8" stroke="#4659a8" stroke-width="0.5"/>
<circle cx="351.0" cy="198.0" r="2.5" fill="#5d72c8" stroke="#4659a8" stroke-width="0.5"/>
<circle cx="339.0" cy="208.0" r="2.5" fill="#5d72c8" stroke="#4659a8" stroke-width="0.5"/>
<circle cx="349.5" cy="212.0" r="2.5" fill="#5d72c8" stroke="#4659a8" stroke-width="0.5"/>
<circle cx="340.0" cy="230.0" r="2.5" fill="#5d72c8" stroke="#4659a8" stroke-width="0.5"/>
<circle cx="348.0" cy="232.0" r="2.5" fill="#5d72c8" stroke="#4659a8" stroke-width="0.5"/>
<polygon points="333.0,198.0 329.5,204.0 326.5,212.0 323.0,220.0 320.0,230.0 317.0,240.0 314.0,248.0 313.0,253.0 333.0,253.0" fill="#ee1c2c"/>
<polygon points="355.0,186.0 361.0,194.0 367.0,204.0 372.0,214.0 379.0,224.0 388.0,234.0 396.0,244.0 399.0,253.0 355.0,253.0" fill="#ee1c2c"/>
<circle cx="327.6" cy="187.0" r="2.7" fill="#ee1c2c" stroke="#c41c2c" stroke-width="0.5"/>
<circle cx="330.5" cy="231.5" r="2.7" fill="#ee1c2c" stroke="#c41c2c" stroke-width="0.5"/>
<circle cx="329.7" cy="199.7" r="2.7" fill="#ee1c2c" stroke="#c41c2c" stroke-width="0.5"/>
<circle cx="333.0" cy="222.2" r="2.7" fill="#ee1c2c" stroke="#c41c2c" stroke-width="0.5"/>
<circle cx="302.9" cy="240.6" r="2.7" fill="#ee1c2c" stroke="#c41c2c" stroke-width="0.5"/>
<circle cx="309.1" cy="248.2" r="2.7" fill="#ee1c2c" stroke="#c41c2c" stroke-width="0.5"/>
<circle cx="312.0" cy="249.7" r="2.7" fill="#ee1c2c" stroke="#c41c2c" stroke-width="0.5"/>
<circle cx="329.1" cy="238.9" r="2.7" fill="#ee1c2c" stroke="#c41c2c" stroke-width="0.5"/>
<circle cx="320.6" cy="246.5" r="2.7" fill="#ee1c2c" stroke="#c41c2c" stroke-width="0.5"/>
<circle cx="331.0" cy="219.2" r="2.7" fill="#ee1c2c" stroke="#c41c2c" stroke-width="0.5"/>
<circle cx="324.0" cy="211.8" r="2.7" fill="#ee1c2c" stroke="#c41c2c" stroke-width="0.5"/>
<circle cx="324.7" cy="226.3" r="2.7" fill="#ee1c2c" stroke="#c41c2c" stroke-width="0.5"/>
<circle cx="330.5" cy="187.5" r="2.7" fill="#ee1c2c" stroke="#c41c2c" stroke-width="0.5"/>
<circle cx="309.5" cy="233.4" r="2.7" fill="#ee1c2c" stroke="#c41c2c" stroke-width="0.5"/>
<circle cx="332.2" cy="197.5" r="2.7" fill="#ee1c2c" stroke="#c41c2c" stroke-width="0.5"/>
<circle cx="321.5" cy="200.6" r="2.7" fill="#ee1c2c" stroke="#c41c2c" stroke-width="0.5"/>
<circle cx="318.2" cy="207.6" r="2.7" fill="#ee1c2c" stroke="#c41c2c" stroke-width="0.5"/>
<circle cx="306.5" cy="245.9" r="2.7" fill="#ee1c2c" stroke="#c41c2c" stroke-width="0.5"/>
<circle cx="329.9" cy="252.7" r="2.7" fill="#ee1c2c" stroke="#c41c2c" stroke-width="0.5"/>
<circle cx="318.6" cy="244.5" r="2.7" fill="#ee1c2c" stroke="#c41c2c" stroke-width="0.5"/>
<circle cx="324.6" cy="209.0" r="2.7" fill="#ee1c2c" stroke="#c41c2c" stroke-width="0.5"/>
<circle cx="313.4" cy="217.3" r="2.7" fill="#ee1c2c" stroke="#c41c2c" stroke-width="0.5"/>
<circle cx="331.9" cy="187.4" r="2.7" fill="#ee1c2c" stroke="#c41c2c" stroke-width="0.5"/>
<circle cx="316.4" cy="225.2" r="2.7" fill="#ee1c2c" stroke="#c41c2c" stroke-width="0.5"/>
<circle cx="328.4" cy="194.2" r="2.7" fill="#ee1c2c" stroke="#c41c2c" stroke-width="0.5"/>
<circle cx="331.5" cy="241.7" r="2.7" fill="#ee1c2c" stroke="#c41c2c" stroke-width="0.5"/>
<circle cx="329.5" cy="213.5" r="2.7" fill="#ee1c2c" stroke="#c41c2c" stroke-width="0.5"/>
<circle cx="312.6" cy="247.5" r="2.7" fill="#ee1c2c" stroke="#c41c2c" stroke-width="0.5"/>
<circle cx="327.2" cy="242.2" r="2.7" fill="#ee1c2c" stroke="#c41c2c" stroke-width="0.5"/>
<circle cx="332.1" cy="196.6" r="2.7" fill="#ee1c2c" stroke="#c41c2c" stroke-width="0.5"/>
<circle cx="317.0" cy="229.2" r="2.7" fill="#ee1c2c" stroke="#c41c2c" stroke-width="0.5"/>
<circle cx="331.0" cy="232.1" r="2.7" fill="#ee1c2c" stroke="#c41c2c" stroke-width="0.5"/>
<circle cx="321.2" cy="235.4" r="2.7" fill="#ee1c2c" stroke="#c41c2c" stroke-width="0.5"/>
<circle cx="314.8" cy="219.4" r="2.7" fill="#ee1c2c" stroke="#c41c2c" stroke-width="0.5"/>
<circle cx="300.8" cy="236.7" r="2.7" fill="#ee1c2c" stroke="#c41c2c" stroke-width="0.5"/>
<circle cx="307.3" cy="247.0" r="2.7" fill="#ee1c2c" stroke="#c41c2c" stroke-width="0.5"/>
<circle cx="320.8" cy="230.4" r="2.7" fill="#ee1c2c" stroke="#c41c2c" stroke-width="0.5"/>
<circle cx="317.1" cy="221.7" r="2.7" fill="#ee1c2c" stroke="#c41c2c" stroke-width="0.5"/>
<circle cx="331.6" cy="226.3" r="2.7" fill="#ee1c2c" stroke="#c41c2c" stroke-width="0.5"/>
<circle cx="329.1" cy="213.6" r="2.7" fill="#ee1c2c" stroke="#c41c2c" stroke-width="0.5"/>
<circle cx="331.7" cy="230.8" r="2.7" fill="#ee1c2c" stroke="#c41c2c" stroke-width="0.5"/>
<circle cx="316.2" cy="228.6" r="2.7" fill="#ee1c2c" stroke="#c41c2c" stroke-width="0.5"/>
<circle cx="321.9" cy="247.4" r="2.7" fill="#ee1c2c" stroke="#c41c2c" stroke-width="0.5"/>
<circle cx="326.2" cy="233.4" r="2.7" fill="#ee1c2c" stroke="#c41c2c" stroke-width="0.5"/>
<circle cx="332.0" cy="201.4" r="2.7" fill="#ee1c2c" stroke="#c41c2c" stroke-width="0.5"/>
<circle cx="327.0" cy="195.3" r="2.7" fill="#ee1c2c" stroke="#c41c2c" stroke-width="0.5"/>
<circle cx="306.9" cy="235.0" r="2.7" fill="#ee1c2c" stroke="#c41c2c" stroke-width="0.5"/>
<circle cx="309.4" cy="249.4" r="2.7" fill="#ee1c2c" stroke="#c41c2c" stroke-width="0.5"/>
<circle cx="365.5" cy="205.8" r="2.7" fill="#ee1c2c" stroke="#c41c2c" stroke-width="0.5"/>
<circle cx="386.3" cy="248.8" r="2.7" fill="#ee1c2c" stroke="#c41c2c" stroke-width="0.5"/>
<circle cx="361.9" cy="203.9" r="2.7" fill="#ee1c2c" stroke="#c41c2c" stroke-width="0.5"/>
<circle cx="365.0" cy="250.9" r="2.7" fill="#ee1c2c" stroke="#c41c2c" stroke-width="0.5"/>
<circle cx="357.8" cy="203.9" r="2.7" fill="#ee1c2c" stroke="#c41c2c" stroke-width="0.5"/>
<circle cx="397.2" cy="243.6" r="2.7" fill="#ee1c2c" stroke="#c41c2c" stroke-width="0.5"/>
<circle cx="389.4" cy="252.8" r="2.7" fill="#ee1c2c" stroke="#c41c2c" stroke-width="0.5"/>
<circle cx="363.7" cy="247.8" r="2.7" fill="#ee1c2c" stroke="#c41c2c" stroke-width="0.5"/>
<circle cx="372.6" cy="198.9" r="2.7" fill="#ee1c2c" stroke="#c41c2c" stroke-width="0.5"/>
<circle cx="368.2" cy="200.5" r="2.7" fill="#ee1c2c" stroke="#c41c2c" stroke-width="0.5"/>
<circle cx="371.8" cy="238.5" r="2.7" fill="#ee1c2c" stroke="#c41c2c" stroke-width="0.5"/>
<circle cx="357.3" cy="210.4" r="2.7" fill="#ee1c2c" stroke="#c41c2c" stroke-width="0.5"/>
<circle cx="372.5" cy="246.5" r="2.7" fill="#ee1c2c" stroke="#c41c2c" stroke-width="0.5"/>
<circle cx="364.1" cy="201.5" r="2.7" fill="#ee1c2c" stroke="#c41c2c" stroke-width="0.5"/>
<circle cx="374.3" cy="237.8" r="2.7" fill="#ee1c2c" stroke="#c41c2c" stroke-width="0.5"/>
<circle cx="356.6" cy="177.1" r="2.7" fill="#ee1c2c" stroke="#c41c2c" stroke-width="0.5"/>
<circle cx="390.1" cy="244.8" r="2.7" fill="#ee1c2c" stroke="#c41c2c" stroke-width="0.5"/>
<circle cx="370.9" cy="194.1" r="2.7" fill="#ee1c2c" stroke="#c41c2c" stroke-width="0.5"/>
<circle cx="367.3" cy="230.0" r="2.7" fill="#ee1c2c" stroke="#c41c2c" stroke-width="0.5"/>
<circle cx="369.9" cy="194.3" r="2.7" fill="#ee1c2c" stroke="#c41c2c" stroke-width="0.5"/>
<circle cx="355.2" cy="233.2" r="2.7" fill="#ee1c2c" stroke="#c41c2c" stroke-width="0.5"/>
<circle cx="366.0" cy="210.5" r="2.7" fill="#ee1c2c" stroke="#c41c2c" stroke-width="0.5"/>
<circle cx="400.0" cy="249.3" r="2.7" fill="#ee1c2c" stroke="#c41c2c" stroke-width="0.5"/>
<circle cx="375.2" cy="212.0" r="2.7" fill="#ee1c2c" stroke="#c41c2c" stroke-width="0.5"/>
<circle cx="392.7" cy="231.8" r="2.7" fill="#ee1c2c" stroke="#c41c2c" stroke-width="0.5"/>
<circle cx="393.7" cy="234.6" r="2.7" fill="#ee1c2c" stroke="#c41c2c" stroke-width="0.5"/>
<circle cx="370.0" cy="201.3" r="2.7" fill="#ee1c2c" stroke="#c41c2c" stroke-width="0.5"/>
<circle cx="364.3" cy="233.0" r="2.7" fill="#ee1c2c" stroke="#c41c2c" stroke-width="0.5"/>
<circle cx="356.6" cy="216.8" r="2.7" fill="#ee1c2c" stroke="#c41c2c" stroke-width="0.5"/>
<circle cx="370.3" cy="251.4" r="2.7" fill="#ee1c2c" stroke="#c41c2c" stroke-width="0.5"/>
<circle cx="396.5" cy="252.0" r="2.7" fill="#ee1c2c" stroke="#c41c2c" stroke-width="0.5"/>
<circle cx="359.5" cy="212.4" r="2.7" fill="#ee1c2c" stroke="#c41c2c" stroke-width="0.5"/>
<circle cx="366.0" cy="205.8" r="2.7" fill="#ee1c2c" stroke="#c41c2c" stroke-width="0.5"/>
<circle cx="384.2" cy="226.6" r="2.7" fill="#ee1c2c" stroke="#c41c2c" stroke-width="0.5"/>
<circle cx="390.2" cy="240.6" r="2.7" fill="#ee1c2c" stroke="#c41c2c" stroke-width="0.5"/>
<circle cx="366.6" cy="191.9" r="2.7" fill="#ee1c2c" stroke="#c41c2c" stroke-width="0.5"/>
<circle cx="362.2" cy="243.6" r="2.7" fill="#ee1c2c" stroke="#c41c2c" stroke-width="0.5"/>
<circle cx="373.6" cy="252.4" r="2.7" fill="#ee1c2c" stroke="#c41c2c" stroke-width="0.5"/>
<circle cx="377.3" cy="238.3" r="2.7" fill="#ee1c2c" stroke="#c41c2c" stroke-width="0.5"/>
<circle cx="394.5" cy="246.1" r="2.7" fill="#ee1c2c" stroke="#c41c2c" stroke-width="0.5"/>
<circle cx="356.9" cy="195.8" r="2.7" fill="#ee1c2c" stroke="#c41c2c" stroke-width="0.5"/>
<circle cx="360.6" cy="187.4" r="2.7" fill="#ee1c2c" stroke="#c41c2c" stroke-width="0.5"/>
<circle cx="367.2" cy="235.0" r="2.7" fill="#ee1c2c" stroke="#c41c2c" stroke-width="0.5"/>
<circle cx="383.0" cy="222.2" r="2.7" fill="#ee1c2c" stroke="#c41c2c" stroke-width="0.5"/>
<circle cx="365.2" cy="201.9" r="2.7" fill="#ee1c2c" stroke="#c41c2c" stroke-width="0.5"/>
<circle cx="361.6" cy="188.5" r="2.7" fill="#ee1c2c" stroke="#c41c2c" stroke-width="0.5"/>
<circle cx="367.0" cy="220.6" r="2.7" fill="#ee1c2c" stroke="#c41c2c" stroke-width="0.5"/>
<circle cx="355.5" cy="198.5" r="2.7" fill="#ee1c2c" stroke="#c41c2c" stroke-width="0.5"/>
<circle cx="358.0" cy="180.2" r="2.7" fill="#ee1c2c" stroke="#c41c2c" stroke-width="0.5"/>
<circle cx="373.6" cy="216.6" r="2.7" fill="#ee1c2c" stroke="#c41c2c" stroke-width="0.5"/>
<circle cx="362.7" cy="228.3" r="2.7" fill="#ee1c2c" stroke="#c41c2c" stroke-width="0.5"/>
<circle cx="369.5" cy="249.2" r="2.7" fill="#ee1c2c" stroke="#c41c2c" stroke-width="0.5"/>
<circle cx="369.7" cy="217.9" r="2.7" fill="#ee1c2c" stroke="#c41c2c" stroke-width="0.5"/>
<circle cx="371.8" cy="205.7" r="2.7" fill="#ee1c2c" stroke="#c41c2c" stroke-width="0.5"/>
<circle cx="395.6" cy="252.7" r="2.7" fill="#ee1c2c" stroke="#c41c2c" stroke-width="0.5"/>
<circle cx="355.3" cy="245.0" r="2.7" fill="#ee1c2c" stroke="#c41c2c" stroke-width="0.5"/>
<circle cx="374.9" cy="238.4" r="2.7" fill="#ee1c2c" stroke="#c41c2c" stroke-width="0.5"/>
<circle cx="374.1" cy="243.5" r="2.7" fill="#ee1c2c" stroke="#c41c2c" stroke-width="0.5"/>
<circle cx="355.7" cy="216.7" r="2.7" fill="#ee1c2c" stroke="#c41c2c" stroke-width="0.5"/>
<circle cx="385.1" cy="245.7" r="2.7" fill="#ee1c2c" stroke="#c41c2c" stroke-width="0.5"/>
<circle cx="294.7" cy="105.9" r="2.4" fill="#e4384a" stroke="#b82a3a" stroke-width="0.5"/>
<circle cx="289.0" cy="120.0" r="2.4" fill="#e4384a" stroke="#b82a3a" stroke-width="0.5"/>
<circle cx="317.2" cy="117.0" r="2.4" fill="#e4384a" stroke="#b82a3a" stroke-width="0.5"/>
<circle cx="310.3" cy="124.4" r="2.4" fill="#e4384a" stroke="#b82a3a" stroke-width="0.5"/>
<circle cx="333.0" cy="129.2" r="2.4" fill="#e4384a" stroke="#b82a3a" stroke-width="0.5"/>
<circle cx="307.4" cy="149.7" r="2.4" fill="#e4384a" stroke="#b82a3a" stroke-width="0.5"/>
<circle cx="320.4" cy="155.5" r="2.4" fill="#e4384a" stroke="#b82a3a" stroke-width="0.5"/>
<circle cx="330.3" cy="152.7" r="2.4" fill="#e4384a" stroke="#b82a3a" stroke-width="0.5"/>
<circle cx="297.2" cy="164.7" r="2.4" fill="#e4384a" stroke="#b82a3a" stroke-width="0.5"/>
<circle cx="301.1" cy="164.4" r="2.4" fill="#e4384a" stroke="#b82a3a" stroke-width="0.5"/>
<circle cx="326.9" cy="164.7" r="2.4" fill="#e4384a" stroke="#b82a3a" stroke-width="0.5"/>
<circle cx="328.6" cy="171.2" r="2.4" fill="#e4384a" stroke="#b82a3a" stroke-width="0.5"/>
<circle cx="320.4" cy="174.5" r="2.4" fill="#e4384a" stroke="#b82a3a" stroke-width="0.5"/>
<circle cx="320.4" cy="177.8" r="2.4" fill="#e4384a" stroke="#b82a3a" stroke-width="0.5"/>
<circle cx="317.1" cy="181.9" r="2.4" fill="#e4384a" stroke="#b82a3a" stroke-width="0.5"/>
<circle cx="327.7" cy="180.2" r="2.4" fill="#e4384a" stroke="#b82a3a" stroke-width="0.5"/>
<circle cx="329.9" cy="184.3" r="2.4" fill="#e4384a" stroke="#b82a3a" stroke-width="0.5"/>
<circle cx="307.3" cy="188.9" r="2.4" fill="#e4384a" stroke="#b82a3a" stroke-width="0.5"/>
<circle cx="302.4" cy="193.8" r="2.4" fill="#e4384a" stroke="#b82a3a" stroke-width="0.5"/>
<circle cx="304.9" cy="193.8" r="2.4" fill="#e4384a" stroke="#b82a3a" stroke-width="0.5"/>
<circle cx="315.5" cy="190.0" r="2.4" fill="#e4384a" stroke="#b82a3a" stroke-width="0.5"/>
<circle cx="319.6" cy="192.2" r="2.4" fill="#e4384a" stroke="#b82a3a" stroke-width="0.5"/>
<circle cx="326.9" cy="191.7" r="2.4" fill="#e4384a" stroke="#b82a3a" stroke-width="0.5"/>
<circle cx="301.6" cy="199.0" r="2.4" fill="#e4384a" stroke="#b82a3a" stroke-width="0.5"/>
<circle cx="299.1" cy="203.1" r="2.4" fill="#e4384a" stroke="#b82a3a" stroke-width="0.5"/>
<circle cx="305.7" cy="202.6" r="2.4" fill="#e4384a" stroke="#b82a3a" stroke-width="0.5"/>
<circle cx="320.4" cy="200.7" r="2.4" fill="#e4384a" stroke="#b82a3a" stroke-width="0.5"/>
<circle cx="317.9" cy="205.6" r="2.4" fill="#e4384a" stroke="#b82a3a" stroke-width="0.5"/>
<circle cx="323.6" cy="204.0" r="2.4" fill="#e4384a" stroke="#b82a3a" stroke-width="0.5"/>
<circle cx="326.9" cy="202.3" r="2.4" fill="#e4384a" stroke="#b82a3a" stroke-width="0.5"/>
<circle cx="316.5" cy="182.0" r="2.4" fill="#e4384a" stroke="#b82a3a" stroke-width="0.5"/>
<circle cx="322.4" cy="183.0" r="2.4" fill="#e4384a" stroke="#b82a3a" stroke-width="0.5"/>
<circle cx="307.6" cy="188.8" r="2.4" fill="#e4384a" stroke="#b82a3a" stroke-width="0.5"/>
<circle cx="315.5" cy="189.8" r="2.4" fill="#e4384a" stroke="#b82a3a" stroke-width="0.5"/>
<circle cx="319.4" cy="192.7" r="2.4" fill="#e4384a" stroke="#b82a3a" stroke-width="0.5"/>
<circle cx="302.7" cy="193.7" r="2.4" fill="#e4384a" stroke="#b82a3a" stroke-width="0.5"/>
<circle cx="299.8" cy="199.6" r="2.4" fill="#e4384a" stroke="#b82a3a" stroke-width="0.5"/>
<circle cx="300.8" cy="203.5" r="2.4" fill="#e4384a" stroke="#b82a3a" stroke-width="0.5"/>
<circle cx="305.7" cy="203.5" r="2.4" fill="#e4384a" stroke="#b82a3a" stroke-width="0.5"/>
<circle cx="321.4" cy="200.6" r="2.4" fill="#e4384a" stroke="#b82a3a" stroke-width="0.5"/>
<circle cx="317.5" cy="205.5" r="2.4" fill="#e4384a" stroke="#b82a3a" stroke-width="0.5"/>
<circle cx="294.0" cy="212.4" r="2.4" fill="#e4384a" stroke="#b82a3a" stroke-width="0.5"/>
<circle cx="293.3" cy="228.6" r="2.4" fill="#e4384a" stroke="#b82a3a" stroke-width="0.5"/>
<circle cx="297.6" cy="238.0" r="2.4" fill="#e4384a" stroke="#b82a3a" stroke-width="0.5"/>
<circle cx="300.2" cy="250.5" r="2.4" fill="#e4384a" stroke="#b82a3a" stroke-width="0.5"/>
<circle cx="302.0" cy="226.0" r="2.4" fill="#e4384a" stroke="#b82a3a" stroke-width="0.5"/>
<circle cx="305.4" cy="235.5" r="2.4" fill="#e4384a" stroke="#b82a3a" stroke-width="0.5"/>
<circle cx="276.8" cy="226.5" r="2.4" fill="#e4384a" stroke="#b82a3a" stroke-width="0.5"/>
<circle cx="306.2" cy="222.5" r="2.4" fill="#e4384a" stroke="#b82a3a" stroke-width="0.5"/>
<circle cx="307.0" cy="240.7" r="2.4" fill="#e4384a" stroke="#b82a3a" stroke-width="0.5"/>
<circle cx="293.0" cy="228.0" r="2.4" fill="#e4384a" stroke="#b82a3a" stroke-width="0.5"/>
<circle cx="297.8" cy="237.8" r="2.4" fill="#e4384a" stroke="#b82a3a" stroke-width="0.5"/>
<circle cx="301.8" cy="226.0" r="2.4" fill="#e4384a" stroke="#b82a3a" stroke-width="0.5"/>
<circle cx="299.8" cy="251.2" r="2.4" fill="#e4384a" stroke="#b82a3a" stroke-width="0.5"/>
<circle cx="330.4" cy="152.4" r="2.4" fill="#e4384a" stroke="#b82a3a" stroke-width="0.5"/>
<circle cx="327.3" cy="164.0" r="2.4" fill="#e4384a" stroke="#b82a3a" stroke-width="0.5"/>
<circle cx="330.4" cy="167.0" r="2.4" fill="#e4384a" stroke="#b82a3a" stroke-width="0.5"/>
<circle cx="328.9" cy="172.4" r="2.4" fill="#e4384a" stroke="#b82a3a" stroke-width="0.5"/>
<circle cx="329.6" cy="177.0" r="2.4" fill="#e4384a" stroke="#b82a3a" stroke-width="0.5"/>
<circle cx="328.1" cy="181.0" r="2.4" fill="#e4384a" stroke="#b82a3a" stroke-width="0.5"/>
<circle cx="331.2" cy="186.3" r="2.4" fill="#e4384a" stroke="#b82a3a" stroke-width="0.5"/>
<circle cx="365.4" cy="115.0" r="2.4" fill="#e4384a" stroke="#b82a3a" stroke-width="0.5"/>
<circle cx="356.9" cy="119.6" r="2.4" fill="#e4384a" stroke="#b82a3a" stroke-width="0.5"/>
<circle cx="371.5" cy="122.7" r="2.4" fill="#e4384a" stroke="#b82a3a" stroke-width="0.5"/>
<circle cx="373.8" cy="127.6" r="2.4" fill="#e4384a" stroke="#b82a3a" stroke-width="0.5"/>
<circle cx="367.7" cy="131.2" r="2.4" fill="#e4384a" stroke="#b82a3a" stroke-width="0.5"/>
<circle cx="372.3" cy="131.9" r="2.4" fill="#e4384a" stroke="#b82a3a" stroke-width="0.5"/>
<circle cx="378.2" cy="133.8" r="2.4" fill="#e4384a" stroke="#b82a3a" stroke-width="0.5"/>
<circle cx="361.2" cy="136.2" r="2.4" fill="#e4384a" stroke="#b82a3a" stroke-width="0.5"/>
<circle cx="380.3" cy="140.1" r="2.4" fill="#e4384a" stroke="#b82a3a" stroke-width="0.5"/>
<circle cx="357.7" cy="143.5" r="2.4" fill="#e4384a" stroke="#b82a3a" stroke-width="0.5"/>
<circle cx="356.2" cy="146.5" r="2.4" fill="#e4384a" stroke="#b82a3a" stroke-width="0.5"/>
<circle cx="383.8" cy="145.0" r="2.4" fill="#e4384a" stroke="#b82a3a" stroke-width="0.5"/>
<circle cx="379.2" cy="147.3" r="2.4" fill="#e4384a" stroke="#b82a3a" stroke-width="0.5"/>
<circle cx="421.6" cy="119.7" r="2.4" fill="#e4384a" stroke="#b82a3a" stroke-width="0.5"/>
<circle cx="422.3" cy="143.5" r="2.4" fill="#e4384a" stroke="#b82a3a" stroke-width="0.5"/>
<circle cx="392.8" cy="154.2" r="2.4" fill="#e4384a" stroke="#b82a3a" stroke-width="0.5"/>
<circle cx="386.2" cy="151.1" r="2.4" fill="#e4384a" stroke="#b82a3a" stroke-width="0.5"/>
<circle cx="383.7" cy="144.9" r="2.4" fill="#e4384a" stroke="#b82a3a" stroke-width="0.5"/>
<circle cx="381.0" cy="140.0" r="2.4" fill="#e4384a" stroke="#b82a3a" stroke-width="0.5"/>
<circle cx="380.0" cy="133.8" r="2.4" fill="#e4384a" stroke="#b82a3a" stroke-width="0.5"/>
<circle cx="383.7" cy="156.4" r="2.4" fill="#e4384a" stroke="#b82a3a" stroke-width="0.5"/>
<circle cx="370.8" cy="148.5" r="2.4" fill="#e4384a" stroke="#b82a3a" stroke-width="0.5"/>
<circle cx="376.2" cy="148.5" r="2.4" fill="#e4384a" stroke="#b82a3a" stroke-width="0.5"/>
<circle cx="379.7" cy="147.4" r="2.4" fill="#e4384a" stroke="#b82a3a" stroke-width="0.5"/>
<circle cx="379.7" cy="140.8" r="2.4" fill="#e4384a" stroke="#b82a3a" stroke-width="0.5"/>
<circle cx="386.2" cy="151.5" r="2.4" fill="#e4384a" stroke="#b82a3a" stroke-width="0.5"/>
<circle cx="393.1" cy="154.2" r="2.4" fill="#e4384a" stroke="#b82a3a" stroke-width="0.5"/>
<circle cx="383.1" cy="156.2" r="2.4" fill="#e4384a" stroke="#b82a3a" stroke-width="0.5"/>
<circle cx="359.2" cy="163.1" r="2.4" fill="#e4384a" stroke="#b82a3a" stroke-width="0.5"/>
<circle cx="365.4" cy="163.8" r="2.4" fill="#e4384a" stroke="#b82a3a" stroke-width="0.5"/>
<circle cx="368.5" cy="164.9" r="2.4" fill="#e4384a" stroke="#b82a3a" stroke-width="0.5"/>
<circle cx="373.1" cy="164.6" r="2.4" fill="#e4384a" stroke="#b82a3a" stroke-width="0.5"/>
<circle cx="380.8" cy="166.2" r="2.4" fill="#e4384a" stroke="#b82a3a" stroke-width="0.5"/>
<circle cx="381.2" cy="166.6" r="2.4" fill="#e4384a" stroke="#b82a3a" stroke-width="0.5"/>
<circle cx="355.4" cy="173.1" r="2.4" fill="#e4384a" stroke="#b82a3a" stroke-width="0.5"/>
<circle cx="368.5" cy="176.2" r="2.4" fill="#e4384a" stroke="#b82a3a" stroke-width="0.5"/>
<circle cx="371.5" cy="178.5" r="2.4" fill="#e4384a" stroke="#b82a3a" stroke-width="0.5"/>
<circle cx="373.1" cy="180.8" r="2.4" fill="#e4384a" stroke="#b82a3a" stroke-width="0.5"/>
<circle cx="379.2" cy="183.8" r="2.4" fill="#e4384a" stroke="#b82a3a" stroke-width="0.5"/>
<circle cx="373.1" cy="185.4" r="2.4" fill="#e4384a" stroke="#b82a3a" stroke-width="0.5"/>
<circle cx="376.9" cy="185.4" r="2.4" fill="#e4384a" stroke="#b82a3a" stroke-width="0.5"/>
<circle cx="401.5" cy="181.5" r="2.4" fill="#e4384a" stroke="#b82a3a" stroke-width="0.5"/>
<circle cx="360.0" cy="179.2" r="2.4" fill="#e4384a" stroke="#b82a3a" stroke-width="0.5"/>
<circle cx="357.4" cy="147.0" r="2.4" fill="#e4384a" stroke="#b82a3a" stroke-width="0.5"/>
<circle cx="355.9" cy="143.9" r="2.4" fill="#e4384a" stroke="#b82a3a" stroke-width="0.5"/>
<circle cx="358.2" cy="163.2" r="2.4" fill="#e4384a" stroke="#b82a3a" stroke-width="0.5"/>
<circle cx="362.8" cy="163.2" r="2.4" fill="#e4384a" stroke="#b82a3a" stroke-width="0.5"/>
<circle cx="360.5" cy="170.9" r="2.4" fill="#e4384a" stroke="#b82a3a" stroke-width="0.5"/>
<circle cx="359.0" cy="176.3" r="2.4" fill="#e4384a" stroke="#b82a3a" stroke-width="0.5"/>
<circle cx="357.4" cy="181.7" r="2.4" fill="#e4384a" stroke="#b82a3a" stroke-width="0.5"/>
<circle cx="360.9" cy="171.6" r="2.4" fill="#e4384a" stroke="#b82a3a" stroke-width="0.5"/>
<circle cx="366.3" cy="173.4" r="2.4" fill="#e4384a" stroke="#b82a3a" stroke-width="0.5"/>
<circle cx="369.9" cy="173.8" r="2.4" fill="#e4384a" stroke="#b82a3a" stroke-width="0.5"/>
<circle cx="423.2" cy="188.6" r="2.4" fill="#e4384a" stroke="#b82a3a" stroke-width="0.5"/>
<circle cx="437.7" cy="203.8" r="2.4" fill="#e4384a" stroke="#b82a3a" stroke-width="0.5"/>
<circle cx="411.2" cy="215.2" r="2.4" fill="#e4384a" stroke="#b82a3a" stroke-width="0.5"/>
<circle cx="429.0" cy="217.4" r="2.4" fill="#e4384a" stroke="#b82a3a" stroke-width="0.5"/>
<circle cx="397.2" cy="204.9" r="2.4" fill="#e4384a" stroke="#b82a3a" stroke-width="0.5"/>
<circle cx="396.1" cy="213.0" r="2.4" fill="#e4384a" stroke="#b82a3a" stroke-width="0.5"/>
<circle cx="403.8" cy="223.6" r="2.4" fill="#e4384a" stroke="#b82a3a" stroke-width="0.5"/>
<circle cx="419.1" cy="229.7" r="2.4" fill="#e4384a" stroke="#b82a3a" stroke-width="0.5"/>
<circle cx="400.5" cy="230.1" r="2.4" fill="#e4384a" stroke="#b82a3a" stroke-width="0.5"/>
<circle cx="413.6" cy="237.8" r="2.4" fill="#e4384a" stroke="#b82a3a" stroke-width="0.5"/>
<circle cx="424.6" cy="234.5" r="2.4" fill="#e4384a" stroke="#b82a3a" stroke-width="0.5"/>
<circle cx="403.8" cy="242.2" r="2.4" fill="#e4384a" stroke="#b82a3a" stroke-width="0.5"/>
<circle cx="381.4" cy="194.7" r="2.4" fill="#e4384a" stroke="#b82a3a" stroke-width="0.5"/>
<circle cx="390.2" cy="202.5" r="2.4" fill="#e4384a" stroke="#b82a3a" stroke-width="0.5"/>
<circle cx="397.0" cy="204.5" r="2.4" fill="#e4384a" stroke="#b82a3a" stroke-width="0.5"/>
<circle cx="396.1" cy="213.3" r="2.4" fill="#e4384a" stroke="#b82a3a" stroke-width="0.5"/>
<circle cx="383.4" cy="215.3" r="2.4" fill="#e4384a" stroke="#b82a3a" stroke-width="0.5"/>
<circle cx="391.2" cy="226.0" r="2.4" fill="#e4384a" stroke="#b82a3a" stroke-width="0.5"/>
<circle cx="397.0" cy="227.0" r="2.4" fill="#e4384a" stroke="#b82a3a" stroke-width="0.5"/>
<circle cx="387.3" cy="236.9" r="2.4" fill="#e4384a" stroke="#b82a3a" stroke-width="0.5"/>
<circle cx="399.0" cy="240.8" r="2.4" fill="#e4384a" stroke="#b82a3a" stroke-width="0.5"/>
<circle cx="405.0" cy="242.7" r="2.4" fill="#e4384a" stroke="#b82a3a" stroke-width="0.5"/>
<circle cx="398.0" cy="249.6" r="2.4" fill="#e4384a" stroke="#b82a3a" stroke-width="0.5"/>
<circle cx="402.0" cy="246.7" r="2.4" fill="#e4384a" stroke="#b82a3a" stroke-width="0.5"/>
<circle cx="386.9" cy="199.6" r="2.4" fill="#e4384a" stroke="#b82a3a" stroke-width="0.5"/>
<circle cx="365.0" cy="190.0" r="2.4" fill="#e4384a" stroke="#b82a3a" stroke-width="0.5"/>
<circle cx="370.0" cy="193.0" r="2.4" fill="#e4384a" stroke="#b82a3a" stroke-width="0.5"/>
<circle cx="362.0" cy="186.0" r="2.4" fill="#e4384a" stroke="#b82a3a" stroke-width="0.5"/>
<circle cx="372.0" cy="200.0" r="2.4" fill="#e4384a" stroke="#b82a3a" stroke-width="0.5"/>
<circle cx="366.0" cy="197.0" r="2.4" fill="#e4384a" stroke="#b82a3a" stroke-width="0.5"/>
<circle cx="380.0" cy="210.0" r="2.4" fill="#e4384a" stroke="#b82a3a" stroke-width="0.5"/>
<circle cx="385.0" cy="222.0" r="2.4" fill="#e4384a" stroke="#b82a3a" stroke-width="0.5"/>
<circle cx="392.0" cy="233.0" r="2.4" fill="#e4384a" stroke="#b82a3a" stroke-width="0.5"/>
<circle cx="395.0" cy="238.0" r="2.4" fill="#e4384a" stroke="#b82a3a" stroke-width="0.5"/>
<circle cx="384.0" cy="206.0" r="2.4" fill="#e4384a" stroke="#b82a3a" stroke-width="0.5"/>
<line x1="332.6" x2="332.6" y1="22.1" y2="343.5" stroke="#1a1a1a" stroke-width="1.3" stroke-dasharray="7,3.16"/>
<line x1="355.3" x2="355.3" y1="22.1" y2="343.5" stroke="#1a1a1a" stroke-width="1.3" stroke-dasharray="7,3.16"/>
<line x1="251.2" x2="464" y1="253.0" y2="253.0" stroke="#3a3a3a" stroke-width="1.5" stroke-dasharray="7.5,2.97"/>
<line x1="286.6" y1="116.8" x2="288.6" y2="119.0" stroke="#000" stroke-width="2.4" stroke-linecap="round"/><circle cx="288.6" cy="119.0" r="2.1" fill="#000"/>
<line x1="331.5" y1="130.2" x2="327.6" y2="132.2" stroke="#000" stroke-width="2.4" stroke-linecap="round"/><circle cx="327.6" cy="132.2" r="2.1" fill="#000"/>
<line x1="293.2" y1="211.2" x2="294.6" y2="212.8" stroke="#000" stroke-width="2.4" stroke-linecap="round"/><circle cx="294.6" cy="212.8" r="2.1" fill="#000"/>
<line x1="275.8" y1="225.2" x2="277.2" y2="226.8" stroke="#000" stroke-width="2.4" stroke-linecap="round"/><circle cx="277.2" cy="226.8" r="2.1" fill="#000"/>
<line x1="306.2" y1="221.4" x2="307" y2="222.6" stroke="#000" stroke-width="2.4" stroke-linecap="round"/><circle cx="307" cy="222.6" r="2.1" fill="#000"/>
<line x1="371.6" y1="150.2" x2="372.6" y2="151.4" stroke="#000" stroke-width="2.4" stroke-linecap="round"/><circle cx="372.6" cy="151.4" r="2.1" fill="#000"/>
<line x1="382.6" y1="168.8" x2="383.6" y2="170.0" stroke="#000" stroke-width="2.4" stroke-linecap="round"/><circle cx="383.6" cy="170.0" r="2.1" fill="#000"/>
<line x1="386.5" y1="199.2" x2="387.4" y2="200.4" stroke="#000" stroke-width="2.4" stroke-linecap="round"/><circle cx="387.4" cy="200.4" r="2.1" fill="#000"/>
<line x1="425.8" y1="184.6" x2="424.3" y2="186.8" stroke="#000" stroke-width="2.4" stroke-linecap="round"/><circle cx="424.3" cy="186.8" r="2.1" fill="#000"/>
<line x1="413.8" y1="210.2" x2="412.5" y2="212.6" stroke="#000" stroke-width="2.4" stroke-linecap="round"/><circle cx="412.5" cy="212.6" r="2.1" fill="#000"/>
<line x1="415.2" y1="237.9" x2="413.0" y2="237.6" stroke="#000" stroke-width="2.4" stroke-linecap="round"/><circle cx="413.0" cy="237.6" r="2.1" fill="#000"/>
<line x1="363.8" y1="214.0" x2="364.4" y2="214.8" stroke="#000" stroke-width="2.4" stroke-linecap="round"/><circle cx="364.4" cy="214.8" r="2.1" fill="#000"/>
<line x1="370.3" y1="238.5" x2="370.8" y2="240.0" stroke="#000" stroke-width="2.4" stroke-linecap="round"/><circle cx="370.8" cy="240.0" r="2.1" fill="#000"/>
<line x1="377.2" y1="247.8" x2="377.7" y2="249.0" stroke="#000" stroke-width="2.4" stroke-linecap="round"/><circle cx="377.7" cy="249.0" r="2.1" fill="#000"/>
<line x1="388" y1="244" x2="388.5" y2="245.3" stroke="#000" stroke-width="2.4" stroke-linecap="round"/><circle cx="388.5" cy="245.3" r="2.1" fill="#000"/>
<line x1="364.6" y1="186.2" x2="377.2" y2="216.3" stroke="#000" stroke-width="2.4" stroke-linecap="round"/>
<circle cx="364.6" cy="186.4" r="2.0" fill="#000"/>
<line x1="379.1" y1="211.4" x2="403.8" y2="222.4" stroke="#000" stroke-width="2.4" stroke-linecap="round"/>
<circle cx="403.8" cy="222.6" r="2.1" fill="#000"/>
<line x1="304.8" y1="243" x2="309.7" y2="239.2" stroke="#000" stroke-width="3.0" stroke-linecap="round"/>
<line x1="329" y1="237.2" x2="329" y2="248.8" stroke="#000" stroke-width="2.2" stroke-linecap="round"/>
<line x1="250.6" x2="250.6" y1="22.5" y2="344.2" stroke="#111" stroke-width="1.3"/>
<line x1="250" x2="464" y1="343.5" y2="343.5" stroke="#111" stroke-width="1.3"/>
<line x1="246" x2="250.6" y1="329.0" y2="329.0" stroke="#111" stroke-width="1.2"/>
<text x="242.8" y="334.0" font-size="10" fill="#333" text-anchor="end">0</text>
<line x1="246" x2="250.6" y1="270.6" y2="270.6" stroke="#111" stroke-width="1.2"/>
<text x="242.8" y="275.6" font-size="10" fill="#333" text-anchor="end">1</text>
<line x1="246" x2="250.6" y1="212.2" y2="212.2" stroke="#111" stroke-width="1.2"/>
<text x="242.8" y="217.2" font-size="10" fill="#333" text-anchor="end">2</text>
<line x1="246" x2="250.6" y1="153.8" y2="153.8" stroke="#111" stroke-width="1.2"/>
<text x="242.8" y="158.8" font-size="10" fill="#333" text-anchor="end">3</text>
<line x1="246" x2="250.6" y1="95.4" y2="95.4" stroke="#111" stroke-width="1.2"/>
<text x="242.8" y="100.4" font-size="10" fill="#333" text-anchor="end">4</text>
<line x1="246" x2="250.6" y1="37.1" y2="37.1" stroke="#111" stroke-width="1.2"/>
<text x="242.8" y="42.1" font-size="10" fill="#333" text-anchor="end">5</text>
<line x1="287.0" x2="287.0" y1="343.5" y2="348.2" stroke="#111" stroke-width="1.2"/>
<text x="287.0" y="359.5" font-size="10" fill="#333" text-anchor="middle">−5</text>
<line x1="343.8" x2="343.8" y1="343.5" y2="348.2" stroke="#111" stroke-width="1.2"/>
<text x="343.8" y="359.5" font-size="10" fill="#333" text-anchor="middle">0</text>
<line x1="400.6" x2="400.6" y1="343.5" y2="348.2" stroke="#111" stroke-width="1.2"/>
<text x="400.6" y="359.5" font-size="10" fill="#333" text-anchor="middle">5</text>
<line x1="457.5" x2="457.5" y1="343.5" y2="348.2" stroke="#111" stroke-width="1.2"/>
<text x="457.5" y="359.5" font-size="10" fill="#333" text-anchor="middle">10</text>
<text x="340.6" y="374.3" font-size="10.6" fill="#333" stroke="#333" stroke-width="0.1" textLength="32" lengthAdjust="spacingAndGlyphs">log<tspan font-size="5.5" dy="3.4">2</tspan><tspan dy="-3.4">(FC)</tspan></text>
<text transform="translate(222.8,204.4) rotate(-90)" font-size="10.2" fill="#333" stroke="#333" stroke-width="0.1" textLength="38" lengthAdjust="spacingAndGlyphs"><tspan>-log</tspan><tspan font-size="5.8" dy="4">10</tspan><tspan dy="-4">(</tspan><tspan font-style="italic">P</tspan><tspan>)</tspan></text>
<circle cx="372" cy="29" r="4.1" fill="#5c5c5c" stroke="#444" stroke-width="0.6"/>
<circle cx="372" cy="44.9" r="4.1" fill="#2e9b4a" stroke="#2a7d3f" stroke-width="0.6"/>
<circle cx="372" cy="60.6" r="4.1" fill="#6a7fc8" stroke="#4a5fa8" stroke-width="0.6"/>
<circle cx="372" cy="76.9" r="4.1" fill="#e2202e" stroke="#a0121f" stroke-width="0.6"/>
<text x="380.4" y="31.9" font-size="8.6" fill="#222" stroke="#222" stroke-width="0.1" lengthAdjust="spacingAndGlyphs" textLength="11.4">NS</text>
<text x="380.2" y="46.3" font-size="8.6" fill="#222" stroke="#222" stroke-width="0.1" lengthAdjust="spacingAndGlyphs" textLength="54">|log<tspan font-size="5.8" dy="1.8">2</tspan><tspan dy="-1.8"> (FC)| &gt; 1</tspan></text>
<text x="380.8" y="63.6" font-size="8.6" fill="#222" stroke="#222" stroke-width="0.1" lengthAdjust="spacingAndGlyphs" textLength="28.4"><tspan font-style="italic">P</tspan> &lt; .05</text>
<text x="380.8" y="77.5" font-size="8.6" fill="#222" stroke="#222" stroke-width="0.1" lengthAdjust="spacingAndGlyphs" textLength="104.5"><tspan font-style="italic">P</tspan> &lt; .05 and |log<tspan font-size="5.8" dy="1.8">2</tspan><tspan dy="-1.8"> (FC)| &gt; 1</tspan></text>
<text x="262.3" y="111.6" font-size="8.5" font-weight="bold" fill="#111" stroke="#111" stroke-width="0.3" textLength="26.5" lengthAdjust="spacingAndGlyphs">PTPRK</text>
<text x="280.3" y="143.2" font-size="8.5" font-weight="bold" fill="#111" stroke="#111" stroke-width="0.3" textLength="45.5" lengthAdjust="spacingAndGlyphs">TNFRSF10B</text>
<text x="267.1" y="204.1" font-size="8.5" font-weight="bold" fill="#111" stroke="#111" stroke-width="0.3" textLength="25.2" lengthAdjust="spacingAndGlyphs">DAPK1</text>
<text x="252.1" y="218.6" font-size="8.5" font-weight="bold" fill="#111" stroke="#111" stroke-width="0.3" textLength="36.8" lengthAdjust="spacingAndGlyphs">RPS6KA6</text>
<text x="302" y="232.6" font-size="8.5" font-weight="bold" fill="#111" stroke="#111" stroke-width="0.3" textLength="24.1" lengthAdjust="spacingAndGlyphs">RASD1</text>
<text x="275.6" y="246.7" font-size="8.5" font-weight="bold" fill="#111" stroke="#111" stroke-width="0.3" textLength="24.6" lengthAdjust="spacingAndGlyphs">SFRP2</text>
<text x="310.6" y="251.7" font-size="8.5" font-weight="bold" fill="#111" stroke="#111" stroke-width="0.3" textLength="32" lengthAdjust="spacingAndGlyphs">WNT10A</text>
<text x="323.2" y="224.7" font-size="8.5" font-weight="bold" fill="#111" stroke="#111" stroke-width="0.3" textLength="32.9" lengthAdjust="spacingAndGlyphs">BCL2L10</text>
<text x="344.6" y="179.2" font-size="8.5" font-weight="bold" fill="#111" stroke="#111" stroke-width="0.3" textLength="22.3" lengthAdjust="spacingAndGlyphs">MKI67</text>
<text x="368.6" y="163.6" font-size="8.5" font-weight="bold" fill="#111" stroke="#111" stroke-width="0.3" textLength="23.4" lengthAdjust="spacingAndGlyphs">ITGAV</text>
<text x="382.8" y="181.6" font-size="8.5" font-weight="bold" fill="#111" stroke="#111" stroke-width="0.3" textLength="28" lengthAdjust="spacingAndGlyphs">WNT5A</text>
<text x="420.2" y="180.8" font-size="8.5" font-weight="bold" fill="#111" stroke="#111" stroke-width="0.3" textLength="21.9" lengthAdjust="spacingAndGlyphs">CDK6</text>
<text x="386.2" y="194.8" font-size="8.5" font-weight="bold" fill="#111" stroke="#111" stroke-width="0.3" textLength="26.1" lengthAdjust="spacingAndGlyphs">CXCR6</text>
<text x="336.4" y="197.1" font-size="8.5" font-weight="bold" fill="#111" stroke="#111" stroke-width="0.3" textLength="26.5" lengthAdjust="spacingAndGlyphs">CDCA7</text>
<text x="341.6" y="212.2" font-size="8.5" font-weight="bold" fill="#111" stroke="#111" stroke-width="0.3" textLength="18.4" lengthAdjust="spacingAndGlyphs">FZD8</text>
<text x="416.9" y="206.5" font-size="8.5" font-weight="bold" fill="#111" stroke="#111" stroke-width="0.3" textLength="20.8" lengthAdjust="spacingAndGlyphs">CCR5</text>
<text x="367.2" y="227.5" font-size="8.5" font-weight="bold" fill="#111" stroke="#111" stroke-width="0.3" textLength="28.8" lengthAdjust="spacingAndGlyphs">WNT5B</text>
<text x="406.8" y="226.5" font-size="8.5" font-weight="bold" fill="#111" stroke="#111" stroke-width="0.3" textLength="21.7" lengthAdjust="spacingAndGlyphs">RHOU</text>
<text x="342.9" y="239.1" font-size="8.5" font-weight="bold" fill="#111" stroke="#111" stroke-width="0.3" textLength="20.9" lengthAdjust="spacingAndGlyphs">TIAM1</text>
<text x="391" y="237.4" font-size="8.5" font-weight="bold" fill="#111" stroke="#111" stroke-width="0.3" textLength="12.2" lengthAdjust="spacingAndGlyphs">ITK</text>
<text x="417" y="240.4" font-size="8.5" font-weight="bold" fill="#111" stroke="#111" stroke-width="0.3" textLength="17.3" lengthAdjust="spacingAndGlyphs">IL7R</text>
<text x="362.3" y="260.7" font-size="8.5" font-weight="bold" fill="#111" stroke="#111" stroke-width="0.3" textLength="39.5" lengthAdjust="spacingAndGlyphs">TNFRSF25</text>
<rect x="0" y="0" width="520" height="1.1" fill="#333"/>
<rect x="0" y="0" width="1.2" height="388" fill="#3c3c3c"/>
<rect x="518.5" y="0" width="1.5" height="388" fill="#333"/>
<rect x="0" y="386.5" width="520" height="1.5" fill="#333"/>
</svg>
</body></html>
